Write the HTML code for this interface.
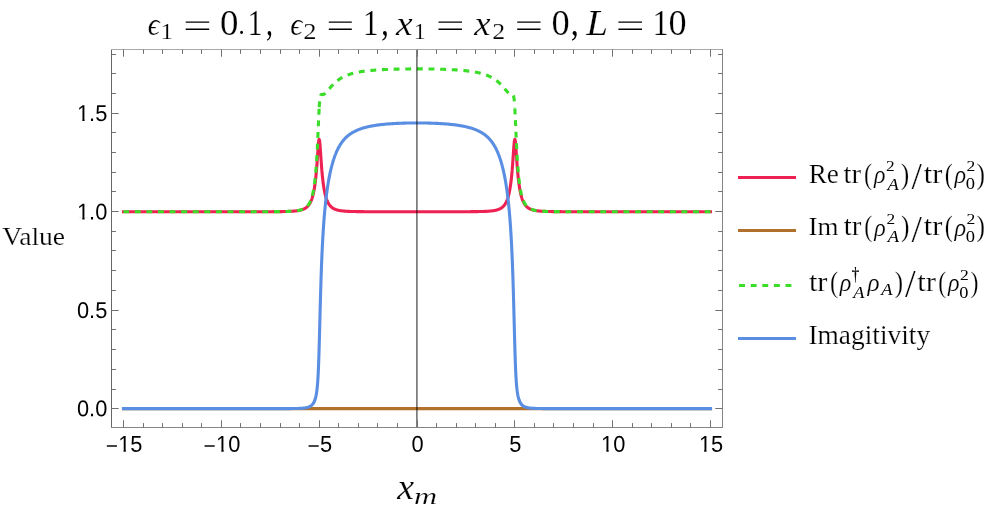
<!DOCTYPE html>
<html><head><meta charset="utf-8"><title>plot</title>
<style>html,body{margin:0;padding:0;background:#fff}body{width:996px;height:516px;overflow:hidden;font-family:"Liberation Sans",sans-serif}</style></head>
<body>
<svg width="996" height="516" viewBox="0 0 996 516" style="display:block;will-change:transform">
<rect width="996" height="516" fill="#fff"/>
<g fill="none" stroke-width="3.1" stroke-linejoin="round">
<path d="M123.50,211.75 L124.47,211.75 L125.45,211.75 L126.43,211.75 L127.41,211.75 L128.39,211.75 L129.37,211.75 L130.34,211.75 L131.32,211.75 L132.30,211.75 L133.28,211.75 L134.26,211.75 L135.24,211.75 L136.21,211.75 L137.19,211.75 L138.17,211.75 L139.15,211.75 L140.13,211.75 L141.11,211.75 L142.08,211.75 L143.06,211.75 L144.04,211.75 L145.02,211.75 L146.00,211.75 L146.98,211.75 L147.95,211.75 L148.93,211.75 L149.91,211.75 L150.89,211.75 L151.87,211.75 L152.85,211.75 L153.82,211.75 L154.80,211.75 L155.78,211.75 L156.76,211.75 L157.74,211.75 L158.72,211.75 L159.69,211.75 L160.67,211.75 L161.65,211.75 L162.63,211.75 L163.61,211.75 L164.59,211.75 L165.56,211.75 L166.54,211.75 L167.52,211.75 L168.50,211.75 L169.48,211.75 L170.46,211.75 L171.43,211.75 L172.41,211.75 L173.39,211.75 L174.37,211.75 L175.35,211.75 L176.33,211.75 L177.30,211.75 L178.28,211.75 L179.26,211.75 L180.24,211.75 L181.22,211.75 L182.20,211.75 L183.17,211.75 L184.15,211.75 L185.13,211.75 L186.11,211.75 L187.09,211.75 L188.07,211.75 L189.04,211.75 L190.02,211.75 L191.00,211.75 L191.98,211.75 L192.96,211.75 L193.94,211.75 L194.91,211.75 L195.89,211.75 L196.87,211.75 L197.85,211.75 L198.83,211.75 L199.81,211.75 L200.78,211.75 L201.76,211.75 L202.74,211.75 L203.72,211.75 L204.70,211.75 L205.68,211.75 L206.65,211.75 L207.63,211.75 L208.61,211.75 L209.59,211.75 L210.57,211.75 L211.55,211.75 L212.52,211.75 L213.50,211.75 L214.48,211.75 L215.46,211.75 L216.44,211.75 L217.42,211.75 L218.39,211.75 L219.37,211.75 L220.35,211.75 L221.33,211.75 L222.31,211.75 L223.29,211.75 L224.27,211.75 L225.24,211.75 L226.22,211.75 L227.20,211.75 L228.18,211.75 L229.16,211.74 L230.14,211.74 L231.11,211.74 L232.09,211.74 L233.07,211.74 L234.05,211.74 L235.03,211.74 L236.01,211.74 L236.98,211.74 L237.96,211.74 L238.94,211.74 L239.92,211.74 L240.90,211.74 L241.88,211.74 L242.85,211.74 L243.83,211.74 L244.81,211.74 L245.79,211.74 L246.77,211.74 L247.75,211.74 L248.72,211.74 L249.70,211.73 L250.68,211.73 L251.66,211.73 L252.64,211.73 L253.62,211.73 L254.59,211.73 L255.57,211.73 L256.55,211.73 L257.53,211.73 L258.51,211.72 L259.49,211.72 L260.46,211.72 L261.44,211.72 L262.42,211.72 L263.40,211.71 L264.38,211.71 L265.36,211.71 L266.33,211.70 L267.31,211.70 L268.29,211.70 L269.27,211.69 L270.25,211.69 L271.23,211.68 L272.20,211.68 L273.18,211.67 L274.16,211.67 L275.14,211.66 L276.12,211.65 L277.10,211.64 L278.07,211.63 L279.05,211.62 L280.03,211.61 L281.01,211.60 L281.99,211.58 L282.97,211.56 L283.94,211.54 L284.92,211.52 L285.90,211.50 L286.88,211.47 L287.86,211.44 L288.84,211.40 L289.81,211.36 L290.79,211.31 L291.77,211.26 L292.75,211.20 L293.73,211.12 L294.71,211.04 L295.68,210.94 L295.68,210.94 L295.78,210.93 L295.88,210.92 L295.98,210.91 L296.08,210.90 L296.17,210.89 L296.27,210.87 L296.37,210.86 L296.47,210.85 L296.57,210.84 L296.66,210.83 L296.76,210.81 L296.86,210.80 L296.96,210.79 L297.05,210.77 L297.15,210.76 L297.25,210.75 L297.35,210.73 L297.45,210.72 L297.54,210.71 L297.64,210.69 L297.74,210.68 L297.84,210.66 L297.93,210.65 L298.03,210.63 L298.13,210.62 L298.23,210.60 L298.33,210.58 L298.42,210.57 L298.52,210.55 L298.62,210.53 L298.62,210.53 L298.72,210.52 L298.82,210.50 L298.91,210.48 L299.01,210.46 L299.11,210.44 L299.21,210.42 L299.30,210.40 L299.40,210.38 L299.50,210.36 L299.60,210.34 L299.70,210.32 L299.79,210.30 L299.89,210.28 L299.99,210.26 L300.09,210.24 L300.19,210.22 L300.28,210.19 L300.38,210.17 L300.48,210.15 L300.58,210.12 L300.58,210.12 L300.67,210.10 L300.77,210.07 L300.87,210.05 L300.97,210.02 L301.07,209.99 L301.16,209.97 L301.26,209.94 L301.36,209.91 L301.46,209.88 L301.55,209.86 L301.65,209.83 L301.75,209.80 L301.85,209.77 L301.95,209.73 L302.04,209.70 L302.14,209.67 L302.24,209.64 L302.34,209.60 L302.44,209.57 L302.53,209.54 L302.63,209.50 L302.73,209.46 L302.83,209.43 L302.92,209.39 L303.02,209.35 L303.12,209.31 L303.22,209.27 L303.32,209.23 L303.41,209.19 L303.51,209.15 L303.51,209.15 L303.61,209.11 L303.71,209.07 L303.80,209.02 L303.90,208.98 L304.00,208.93 L304.10,208.88 L304.20,208.83 L304.29,208.79 L304.39,208.74 L304.49,208.69 L304.59,208.63 L304.69,208.58 L304.78,208.53 L304.88,208.47 L304.98,208.42 L305.08,208.36 L305.17,208.30 L305.27,208.24 L305.37,208.18 L305.47,208.12 L305.47,208.12 L305.57,208.05 L305.66,207.99 L305.76,207.92 L305.86,207.86 L305.96,207.79 L306.06,207.72 L306.15,207.65 L306.25,207.57 L306.35,207.50 L306.45,207.42 L306.54,207.34 L306.64,207.26 L306.74,207.18 L306.84,207.10 L306.94,207.01 L307.03,206.93 L307.13,206.84 L307.23,206.75 L307.33,206.66 L307.42,206.56 L307.52,206.47 L307.62,206.37 L307.72,206.27 L307.82,206.16 L307.91,206.06 L308.01,205.95 L308.11,205.84 L308.21,205.73 L308.31,205.61 L308.40,205.49 L308.40,205.49 L308.50,205.37 L308.60,205.25 L308.70,205.12 L308.79,204.99 L308.89,204.86 L308.99,204.73 L309.09,204.59 L309.19,204.45 L309.28,204.30 L309.38,204.15 L309.48,204.00 L309.58,203.85 L309.68,203.69 L309.77,203.53 L309.87,203.36 L309.97,203.19 L310.07,203.01 L310.16,202.83 L310.26,202.65 L310.36,202.46 L310.36,202.46 L310.46,202.27 L310.56,202.07 L310.65,201.87 L310.75,201.66 L310.85,201.45 L310.95,201.23 L311.04,201.00 L311.14,200.77 L311.24,200.54 L311.34,200.30 L311.34,200.30 L311.44,200.05 L311.53,199.79 L311.63,199.53 L311.73,199.26 L311.83,198.99 L311.93,198.70 L312.02,198.41 L312.12,198.11 L312.22,197.81 L312.32,197.49 L312.41,197.17 L312.51,196.84 L312.61,196.49 L312.71,196.14 L312.81,195.78 L312.90,195.41 L313.00,195.03 L313.10,194.63 L313.20,194.23 L313.29,193.81 L313.29,193.81 L313.39,193.38 L313.49,192.94 L313.59,192.49 L313.69,192.02 L313.78,191.54 L313.88,191.04 L313.98,190.53 L314.08,190.00 L314.18,189.46 L314.27,188.90 L314.37,188.32 L314.47,187.72 L314.57,187.11 L314.66,186.47 L314.76,185.82 L314.86,185.14 L314.96,184.45 L315.06,183.73 L315.15,182.99 L315.25,182.22 L315.25,182.22 L315.27,182.06 L315.29,181.91 L315.31,181.75 L315.33,181.59 L315.35,181.43 L315.37,181.27 L315.39,181.11 L315.41,180.94 L315.43,180.78 L315.45,180.61 L315.45,180.61 L315.47,180.45 L315.49,180.28 L315.51,180.11 L315.53,179.94 L315.55,179.77 L315.56,179.60 L315.58,179.43 L315.60,179.25 L315.62,179.08 L315.64,178.90 L315.66,178.72 L315.68,178.54 L315.70,178.36 L315.72,178.18 L315.74,178.00 L315.76,177.82 L315.78,177.63 L315.80,177.45 L315.82,177.26 L315.84,177.08 L315.86,176.89 L315.88,176.70 L315.90,176.50 L315.92,176.31 L315.94,176.12 L315.96,175.92 L315.98,175.73 L316.00,175.53 L316.01,175.33 L316.03,175.13 L316.05,174.93 L316.07,174.73 L316.09,174.52 L316.11,174.32 L316.13,174.11 L316.15,173.91 L316.17,173.70 L316.19,173.49 L316.21,173.27 L316.23,173.06 L316.23,173.06 L316.25,172.85 L316.27,172.63 L316.29,172.42 L316.31,172.20 L316.33,171.98 L316.35,171.76 L316.37,171.54 L316.39,171.31 L316.41,171.09 L316.43,170.86 L316.45,170.64 L316.46,170.41 L316.48,170.18 L316.50,169.95 L316.52,169.72 L316.54,169.48 L316.56,169.25 L316.58,169.01 L316.60,168.77 L316.62,168.53 L316.64,168.29 L316.66,168.05 L316.68,167.81 L316.70,167.57 L316.72,167.32 L316.74,167.07 L316.76,166.83 L316.78,166.58 L316.80,166.33 L316.82,166.07 L316.84,165.82 L316.86,165.57 L316.88,165.31 L316.90,165.05 L316.91,164.79 L316.93,164.54 L316.95,164.27 L316.97,164.01 L316.99,163.75 L317.01,163.49 L317.01,163.49 L317.03,163.22 L317.05,162.95 L317.07,162.69 L317.09,162.42 L317.11,162.15 L317.13,161.88 L317.15,161.61 L317.17,161.33 L317.19,161.06 L317.21,160.78 L317.23,160.51 L317.25,160.23 L317.27,159.95 L317.29,159.67 L317.31,159.40 L317.33,159.12 L317.35,158.83 L317.36,158.55 L317.38,158.27 L317.40,157.99 L317.42,157.70 L317.44,157.42 L317.46,157.13 L317.48,156.85 L317.50,156.56 L317.52,156.28 L317.54,155.99 L317.56,155.70 L317.58,155.42 L317.60,155.13 L317.62,154.84 L317.64,154.55 L317.66,154.27 L317.68,153.98 L317.70,153.69 L317.72,153.40 L317.74,153.12 L317.76,152.83 L317.78,152.54 L317.80,152.26 L317.81,151.97 L317.83,151.69 L317.85,151.40 L317.87,151.12 L317.89,150.84 L317.89,150.84 L317.91,150.56 L317.93,150.27 L317.95,150.00 L317.97,149.72 L317.99,149.44 L318.01,149.16 L318.03,148.89 L318.05,148.62 L318.07,148.35 L318.09,148.08 L318.11,147.81 L318.13,147.54 L318.15,147.28 L318.17,147.02 L318.19,146.76 L318.19,146.76 L318.21,146.50 L318.23,146.25 L318.25,146.00 L318.26,145.75 L318.28,145.51 L318.30,145.26 L318.32,145.02 L318.34,144.79 L318.36,144.55 L318.38,144.33 L318.40,144.10 L318.42,143.88 L318.44,143.66 L318.46,143.45 L318.48,143.24 L318.50,143.03 L318.52,142.83 L318.54,142.63 L318.56,142.44 L318.58,142.25 L318.60,142.07 L318.62,141.89 L318.64,141.72 L318.66,141.55 L318.68,141.39 L318.70,141.23 L318.71,141.08 L318.73,140.94 L318.75,140.80 L318.77,140.66 L318.79,140.53 L318.81,140.41 L318.83,140.29 L318.85,140.18 L318.87,140.08 L318.89,139.98 L318.91,139.89 L318.93,139.81 L318.95,139.73 L318.97,139.66 L318.99,139.59 L319.01,139.53 L319.03,139.48 L319.05,139.44 L319.07,139.40 L319.09,139.37 L319.11,139.35 L319.13,139.33 L319.15,139.32 L319.16,139.32 L319.18,139.32 L319.20,139.33 L319.22,139.35 L319.24,139.37 L319.24,139.37 L319.26,139.40 L319.28,139.44 L319.30,139.48 L319.32,139.54 L319.34,139.59 L319.36,139.66 L319.38,139.73 L319.40,139.81 L319.42,139.89 L319.44,139.98 L319.46,140.08 L319.46,140.08 L319.48,140.19 L319.50,140.30 L319.52,140.41 L319.54,140.54 L319.56,140.66 L319.58,140.80 L319.60,140.94 L319.62,141.08 L319.63,141.24 L319.65,141.39 L319.67,141.56 L319.69,141.72 L319.71,141.90 L319.73,142.07 L319.75,142.26 L319.77,142.44 L319.79,142.64 L319.81,142.83 L319.83,143.03 L319.85,143.24 L319.87,143.45 L319.89,143.66 L319.91,143.88 L319.93,144.10 L319.95,144.33 L319.97,144.56 L319.99,144.79 L320.01,145.03 L320.03,145.27 L320.05,145.51 L320.07,145.76 L320.08,146.01 L320.10,146.26 L320.12,146.51 L320.14,146.77 L320.14,146.77 L320.16,147.03 L320.18,147.29 L320.20,147.55 L320.22,147.82 L320.24,148.08 L320.26,148.35 L320.28,148.62 L320.30,148.90 L320.32,149.17 L320.34,149.45 L320.34,149.45 L320.36,149.72 L320.38,150.00 L320.40,150.28 L320.42,150.56 L320.44,150.85 L320.46,151.13 L320.48,151.41 L320.50,151.70 L320.52,151.98 L320.53,152.27 L320.55,152.55 L320.57,152.84 L320.59,153.13 L320.61,153.41 L320.63,153.70 L320.65,153.99 L320.67,154.28 L320.69,154.56 L320.71,154.85 L320.73,155.14 L320.75,155.43 L320.77,155.71 L320.79,156.00 L320.81,156.29 L320.83,156.57 L320.85,156.86 L320.87,157.14 L320.89,157.43 L320.91,157.71 L320.93,158.00 L320.95,158.28 L320.97,158.56 L320.98,158.84 L321.00,159.13 L321.02,159.41 L321.04,159.69 L321.06,159.96 L321.08,160.24 L321.10,160.52 L321.12,160.79 L321.12,160.79 L321.14,161.07 L321.16,161.34 L321.18,161.62 L321.20,161.89 L321.22,162.16 L321.24,162.43 L321.26,162.70 L321.28,162.97 L321.30,163.23 L321.32,163.50 L321.34,163.76 L321.36,164.02 L321.38,164.29 L321.40,164.55 L321.42,164.81 L321.43,165.07 L321.45,165.32 L321.47,165.58 L321.49,165.83 L321.51,166.09 L321.53,166.34 L321.55,166.59 L321.57,166.84 L321.59,167.09 L321.61,167.33 L321.63,167.58 L321.65,167.82 L321.67,168.07 L321.69,168.31 L321.71,168.55 L321.73,168.79 L321.75,169.02 L321.77,169.26 L321.79,169.50 L321.81,169.73 L321.83,169.96 L321.85,170.19 L321.87,170.42 L321.88,170.65 L321.90,170.88 L321.90,170.88 L321.92,171.10 L321.94,171.33 L321.96,171.55 L321.98,171.77 L322.00,171.99 L322.02,172.21 L322.04,172.43 L322.06,172.65 L322.08,172.86 L322.10,173.08 L322.12,173.29 L322.14,173.50 L322.16,173.71 L322.18,173.92 L322.20,174.13 L322.22,174.33 L322.24,174.54 L322.26,174.74 L322.28,174.94 L322.30,175.15 L322.32,175.35 L322.33,175.54 L322.35,175.74 L322.37,175.94 L322.39,176.13 L322.41,176.33 L322.43,176.52 L322.45,176.71 L322.47,176.90 L322.49,177.09 L322.51,177.28 L322.53,177.46 L322.55,177.65 L322.57,177.83 L322.59,178.02 L322.61,178.20 L322.63,178.38 L322.65,178.56 L322.67,178.74 L322.69,178.92 L322.71,179.09 L322.73,179.27 L322.75,179.44 L322.77,179.61 L322.78,179.79 L322.78,179.79 L322.80,179.96 L322.82,180.13 L322.84,180.29 L322.86,180.46 L322.88,180.63 L322.90,180.79 L322.92,180.96 L322.94,181.12 L322.96,181.28 L322.98,181.45 L323.00,181.61 L323.02,181.76 L323.04,181.92 L323.06,182.08 L323.08,182.24 L323.08,182.24 L323.18,183.00 L323.27,183.74 L323.37,184.46 L323.47,185.16 L323.57,185.84 L323.67,186.49 L323.76,187.12 L323.86,187.74 L323.96,188.33 L324.06,188.91 L324.15,189.47 L324.25,190.02 L324.35,190.54 L324.45,191.06 L324.55,191.55 L324.64,192.04 L324.74,192.50 L324.84,192.96 L324.94,193.40 L325.04,193.83 L325.04,193.83 L325.13,194.25 L325.23,194.65 L325.33,195.04 L325.43,195.43 L325.52,195.80 L325.62,196.16 L325.72,196.51 L325.82,196.85 L325.92,197.19 L326.01,197.51 L326.01,197.51 L326.11,197.83 L326.21,198.13 L326.31,198.43 L326.40,198.72 L326.50,199.01 L326.60,199.28 L326.70,199.55 L326.80,199.81 L326.89,200.07 L326.99,200.32 L327.09,200.56 L327.19,200.79 L327.29,201.02 L327.38,201.25 L327.48,201.47 L327.58,201.68 L327.68,201.89 L327.77,202.09 L327.87,202.29 L327.97,202.48 L327.97,202.48 L328.07,202.67 L328.17,202.85 L328.26,203.03 L328.36,203.21 L328.46,203.38 L328.56,203.55 L328.65,203.71 L328.75,203.87 L328.85,204.02 L328.95,204.17 L329.05,204.32 L329.14,204.47 L329.24,204.61 L329.34,204.75 L329.44,204.88 L329.54,205.01 L329.63,205.14 L329.73,205.27 L329.83,205.39 L329.93,205.51 L329.93,205.51 L330.02,205.63 L330.12,205.75 L330.22,205.86 L330.32,205.97 L330.42,206.08 L330.51,206.18 L330.61,206.28 L330.71,206.39 L330.81,206.48 L330.91,206.58 L330.91,206.58 L331.00,206.68 L331.10,206.77 L331.20,206.86 L331.30,206.95 L331.39,207.03 L331.49,207.12 L331.59,207.20 L331.69,207.28 L331.79,207.36 L331.88,207.44 L331.98,207.52 L332.08,207.59 L332.18,207.66 L332.27,207.74 L332.37,207.81 L332.47,207.87 L332.57,207.94 L332.67,208.01 L332.76,208.07 L332.86,208.14 L332.86,208.14 L332.96,208.20 L333.06,208.26 L333.16,208.32 L333.25,208.38 L333.35,208.43 L333.45,208.49 L333.55,208.55 L333.64,208.60 L333.74,208.65 L333.84,208.70 L333.94,208.75 L334.04,208.80 L334.13,208.85 L334.23,208.90 L334.33,208.95 L334.43,208.99 L334.53,209.04 L334.62,209.08 L334.72,209.13 L334.82,209.17 L334.82,209.17 L334.92,209.21 L335.01,209.25 L335.11,209.29 L335.21,209.33 L335.31,209.37 L335.41,209.41 L335.50,209.45 L335.60,209.48 L335.70,209.52 L335.80,209.55 L335.80,209.55 L335.89,209.59 L335.99,209.62 L336.09,209.66 L336.19,209.69 L336.29,209.72 L336.38,209.75 L336.48,209.78 L336.58,209.81 L336.68,209.84 L336.78,209.87 L336.87,209.90 L336.97,209.93 L337.07,209.96 L337.17,209.98 L337.26,210.01 L337.36,210.04 L337.46,210.06 L337.56,210.09 L337.66,210.11 L337.75,210.14 L337.75,210.14 L337.85,210.16 L337.95,210.19 L338.05,210.21 L338.14,210.23 L338.24,210.25 L338.34,210.28 L338.44,210.30 L338.54,210.32 L338.63,210.34 L338.73,210.36 L338.83,210.38 L338.93,210.40 L339.03,210.42 L339.12,210.44 L339.22,210.46 L339.32,210.48 L339.42,210.50 L339.51,210.51 L339.61,210.53 L339.71,210.55 L339.71,210.55 L339.81,210.57 L339.91,210.58 L340.00,210.60 L340.10,210.62 L340.20,210.63 L340.30,210.65 L340.40,210.66 L340.49,210.68 L340.59,210.69 L340.69,210.71 L340.69,210.71 L340.79,210.72 L340.88,210.74 L340.98,210.75 L341.08,210.76 L341.18,210.78 L341.28,210.79 L341.37,210.80 L341.47,210.82 L341.57,210.83 L341.67,210.84 L341.76,210.85 L341.86,210.87 L341.96,210.88 L342.06,210.89 L342.16,210.90 L342.25,210.91 L342.35,210.92 L342.45,210.93 L342.55,210.95 L342.65,210.96 L342.65,210.96 L343.62,211.05 L344.60,211.14 L345.58,211.21 L346.56,211.27 L347.54,211.33 L348.52,211.37 L349.49,211.41 L350.47,211.45 L351.45,211.48 L352.43,211.51 L353.41,211.53 L354.39,211.56 L355.36,211.57 L356.34,211.59 L357.32,211.61 L358.30,211.62 L359.28,211.63 L360.26,211.64 L361.23,211.65 L362.21,211.66 L363.19,211.67 L364.17,211.68 L365.15,211.68 L366.13,211.69 L367.10,211.69 L368.08,211.70 L369.06,211.70 L370.04,211.71 L371.02,211.71 L372.00,211.71 L372.97,211.72 L373.95,211.72 L374.93,211.72 L375.91,211.72 L376.89,211.73 L377.87,211.73 L378.84,211.73 L379.82,211.73 L380.80,211.73 L381.78,211.73 L382.76,211.74 L383.74,211.74 L384.71,211.74 L385.69,211.74 L386.67,211.74 L387.65,211.74 L388.63,211.74 L389.61,211.74 L390.58,211.74 L391.56,211.74 L392.54,211.74 L393.52,211.74 L394.50,211.75 L395.48,211.75 L396.45,211.75 L397.43,211.75 L398.41,211.75 L399.39,211.75 L400.37,211.75 L401.35,211.75 L402.32,211.75 L403.30,211.75 L404.28,211.75 L405.26,211.75 L406.24,211.75 L407.22,211.75 L408.19,211.75 L409.17,211.75 L410.15,211.75 L411.13,211.75 L412.11,211.75 L413.09,211.75 L414.06,211.75 L415.04,211.75 L416.02,211.75 L417.00,211.75 L417.98,211.75 L418.96,211.75 L419.94,211.75 L420.91,211.75 L421.89,211.75 L422.87,211.75 L423.85,211.75 L424.83,211.75 L425.81,211.75 L426.78,211.75 L427.76,211.75 L428.74,211.75 L429.72,211.75 L430.70,211.75 L431.68,211.75 L432.65,211.75 L433.63,211.75 L434.61,211.75 L435.59,211.75 L436.57,211.75 L437.55,211.75 L438.52,211.75 L439.50,211.75 L440.48,211.74 L441.46,211.74 L442.44,211.74 L443.42,211.74 L444.39,211.74 L445.37,211.74 L446.35,211.74 L447.33,211.74 L448.31,211.74 L449.29,211.74 L450.26,211.74 L451.24,211.74 L452.22,211.73 L453.20,211.73 L454.18,211.73 L455.16,211.73 L456.13,211.73 L457.11,211.73 L458.09,211.72 L459.07,211.72 L460.05,211.72 L461.03,211.72 L462.00,211.71 L462.98,211.71 L463.96,211.71 L464.94,211.70 L465.92,211.70 L466.90,211.69 L467.87,211.69 L468.85,211.68 L469.83,211.68 L470.81,211.67 L471.79,211.66 L472.77,211.65 L473.74,211.64 L474.72,211.63 L475.70,211.62 L476.68,211.61 L477.66,211.59 L478.64,211.57 L479.61,211.56 L480.59,211.53 L481.57,211.51 L482.55,211.48 L483.53,211.45 L484.51,211.41 L485.48,211.37 L486.46,211.33 L487.44,211.27 L488.42,211.21 L489.40,211.14 L490.38,211.05 L491.35,210.96 L491.35,210.96 L491.45,210.95 L491.55,210.93 L491.65,210.92 L491.75,210.91 L491.84,210.90 L491.94,210.89 L492.04,210.88 L492.14,210.87 L492.24,210.85 L492.33,210.84 L492.33,210.84 L492.43,210.83 L492.53,210.82 L492.63,210.80 L492.72,210.79 L492.82,210.78 L492.92,210.76 L493.02,210.75 L493.12,210.74 L493.21,210.72 L493.31,210.71 L493.31,210.71 L493.41,210.69 L493.51,210.68 L493.60,210.66 L493.70,210.65 L493.80,210.63 L493.90,210.62 L494.00,210.60 L494.09,210.58 L494.19,210.57 L494.29,210.55 L494.29,210.55 L494.39,210.53 L494.49,210.51 L494.58,210.50 L494.68,210.48 L494.78,210.46 L494.88,210.44 L494.97,210.42 L495.07,210.40 L495.17,210.38 L495.27,210.36 L495.37,210.34 L495.46,210.32 L495.56,210.30 L495.66,210.28 L495.76,210.25 L495.86,210.23 L495.95,210.21 L496.05,210.19 L496.15,210.16 L496.25,210.14 L496.25,210.14 L496.34,210.11 L496.44,210.09 L496.54,210.06 L496.64,210.04 L496.74,210.01 L496.83,209.98 L496.93,209.96 L497.03,209.93 L497.13,209.90 L497.22,209.87 L497.22,209.87 L497.32,209.84 L497.42,209.81 L497.52,209.78 L497.62,209.75 L497.71,209.72 L497.81,209.69 L497.91,209.66 L498.01,209.62 L498.11,209.59 L498.20,209.55 L498.20,209.55 L498.30,209.52 L498.40,209.48 L498.50,209.45 L498.59,209.41 L498.69,209.37 L498.79,209.33 L498.89,209.29 L498.99,209.25 L499.08,209.21 L499.18,209.17 L499.18,209.17 L499.28,209.13 L499.38,209.08 L499.47,209.04 L499.57,208.99 L499.67,208.95 L499.77,208.90 L499.87,208.85 L499.96,208.80 L500.06,208.75 L500.16,208.70 L500.26,208.65 L500.36,208.60 L500.45,208.55 L500.55,208.49 L500.65,208.43 L500.75,208.38 L500.84,208.32 L500.94,208.26 L501.04,208.20 L501.14,208.14 L501.14,208.14 L501.24,208.07 L501.33,208.01 L501.43,207.94 L501.53,207.87 L501.63,207.81 L501.73,207.74 L501.82,207.66 L501.92,207.59 L502.02,207.52 L502.12,207.44 L502.12,207.44 L502.21,207.36 L502.31,207.28 L502.41,207.20 L502.51,207.12 L502.61,207.03 L502.70,206.95 L502.80,206.86 L502.90,206.77 L503.00,206.68 L503.09,206.58 L503.09,206.58 L503.19,206.48 L503.29,206.39 L503.39,206.28 L503.49,206.18 L503.58,206.08 L503.68,205.97 L503.78,205.86 L503.88,205.75 L503.98,205.63 L504.07,205.51 L504.07,205.51 L504.17,205.39 L504.27,205.27 L504.37,205.14 L504.46,205.01 L504.56,204.88 L504.66,204.75 L504.76,204.61 L504.86,204.47 L504.95,204.32 L505.05,204.17 L505.15,204.02 L505.25,203.87 L505.35,203.71 L505.44,203.55 L505.54,203.38 L505.64,203.21 L505.74,203.03 L505.83,202.85 L505.93,202.67 L506.03,202.48 L506.03,202.48 L506.13,202.29 L506.23,202.09 L506.32,201.89 L506.42,201.68 L506.52,201.47 L506.62,201.25 L506.71,201.02 L506.81,200.79 L506.91,200.56 L507.01,200.32 L507.01,200.32 L507.11,200.07 L507.20,199.81 L507.30,199.55 L507.40,199.28 L507.50,199.01 L507.60,198.72 L507.69,198.43 L507.79,198.13 L507.89,197.83 L507.99,197.51 L507.99,197.51 L508.08,197.19 L508.18,196.85 L508.28,196.51 L508.38,196.16 L508.48,195.80 L508.57,195.43 L508.67,195.04 L508.77,194.65 L508.87,194.25 L508.96,193.83 L508.96,193.83 L509.06,193.40 L509.16,192.96 L509.26,192.50 L509.36,192.04 L509.45,191.55 L509.55,191.06 L509.65,190.54 L509.75,190.02 L509.85,189.47 L509.94,188.91 L510.04,188.33 L510.14,187.74 L510.24,187.12 L510.33,186.49 L510.43,185.84 L510.53,185.16 L510.63,184.46 L510.73,183.74 L510.82,183.00 L510.92,182.24 L510.92,182.24 L510.94,182.08 L510.96,181.92 L510.98,181.76 L511.00,181.61 L511.02,181.45 L511.04,181.28 L511.06,181.12 L511.08,180.96 L511.10,180.79 L511.12,180.63 L511.12,180.63 L511.14,180.46 L511.16,180.29 L511.18,180.13 L511.20,179.96 L511.22,179.79 L511.23,179.61 L511.25,179.44 L511.27,179.27 L511.29,179.09 L511.31,178.92 L511.33,178.74 L511.35,178.56 L511.37,178.38 L511.39,178.20 L511.41,178.02 L511.43,177.83 L511.45,177.65 L511.47,177.46 L511.49,177.28 L511.51,177.09 L511.53,176.90 L511.55,176.71 L511.57,176.52 L511.59,176.33 L511.61,176.13 L511.63,175.94 L511.65,175.74 L511.67,175.54 L511.68,175.35 L511.70,175.15 L511.72,174.94 L511.74,174.74 L511.76,174.54 L511.78,174.33 L511.80,174.13 L511.82,173.92 L511.84,173.71 L511.86,173.50 L511.88,173.29 L511.90,173.08 L511.90,173.08 L511.92,172.86 L511.94,172.65 L511.96,172.43 L511.98,172.21 L512.00,171.99 L512.02,171.77 L512.04,171.55 L512.06,171.33 L512.08,171.10 L512.10,170.88 L512.12,170.65 L512.13,170.42 L512.15,170.19 L512.17,169.96 L512.19,169.73 L512.21,169.50 L512.23,169.26 L512.25,169.02 L512.27,168.79 L512.29,168.55 L512.31,168.31 L512.33,168.07 L512.35,167.82 L512.37,167.58 L512.39,167.33 L512.41,167.09 L512.43,166.84 L512.45,166.59 L512.47,166.34 L512.49,166.09 L512.51,165.83 L512.53,165.58 L512.55,165.32 L512.57,165.07 L512.58,164.81 L512.60,164.55 L512.62,164.29 L512.64,164.02 L512.66,163.76 L512.68,163.50 L512.68,163.50 L512.70,163.23 L512.72,162.97 L512.74,162.70 L512.76,162.43 L512.78,162.16 L512.80,161.89 L512.82,161.62 L512.84,161.34 L512.86,161.07 L512.88,160.79 L512.88,160.79 L512.90,160.52 L512.92,160.24 L512.94,159.96 L512.96,159.69 L512.98,159.41 L513.00,159.13 L513.02,158.84 L513.03,158.56 L513.05,158.28 L513.07,158.00 L513.09,157.71 L513.11,157.43 L513.13,157.14 L513.15,156.86 L513.17,156.57 L513.19,156.29 L513.21,156.00 L513.23,155.71 L513.25,155.43 L513.27,155.14 L513.29,154.85 L513.31,154.56 L513.33,154.28 L513.35,153.99 L513.37,153.70 L513.39,153.41 L513.41,153.13 L513.43,152.84 L513.45,152.55 L513.47,152.27 L513.48,151.98 L513.50,151.70 L513.52,151.41 L513.54,151.13 L513.56,150.85 L513.56,150.85 L513.58,150.56 L513.60,150.28 L513.62,150.00 L513.64,149.72 L513.66,149.45 L513.68,149.17 L513.70,148.90 L513.72,148.62 L513.74,148.35 L513.76,148.08 L513.78,147.82 L513.80,147.55 L513.82,147.29 L513.84,147.03 L513.86,146.77 L513.86,146.77 L513.88,146.51 L513.90,146.26 L513.92,146.01 L513.93,145.76 L513.95,145.51 L513.97,145.27 L513.99,145.03 L514.01,144.79 L514.03,144.56 L514.05,144.33 L514.07,144.10 L514.09,143.88 L514.11,143.66 L514.13,143.45 L514.15,143.24 L514.17,143.03 L514.19,142.83 L514.21,142.64 L514.23,142.44 L514.25,142.26 L514.27,142.07 L514.29,141.90 L514.31,141.72 L514.33,141.56 L514.35,141.39 L514.37,141.24 L514.38,141.08 L514.40,140.94 L514.42,140.80 L514.44,140.66 L514.46,140.54 L514.48,140.41 L514.50,140.30 L514.52,140.19 L514.54,140.08 L514.56,139.98 L514.58,139.89 L514.60,139.81 L514.62,139.73 L514.64,139.66 L514.66,139.59 L514.68,139.54 L514.70,139.48 L514.72,139.44 L514.74,139.40 L514.76,139.37 L514.76,139.37 L514.78,139.35 L514.80,139.33 L514.82,139.32 L514.84,139.32 L514.85,139.32 L514.87,139.33 L514.89,139.35 L514.91,139.37 L514.93,139.40 L514.95,139.44 L514.97,139.48 L514.99,139.53 L515.01,139.59 L515.03,139.66 L515.05,139.73 L515.07,139.81 L515.09,139.89 L515.11,139.98 L515.13,140.08 L515.13,140.08 L515.15,140.18 L515.17,140.29 L515.19,140.41 L515.21,140.53 L515.23,140.66 L515.25,140.80 L515.27,140.94 L515.29,141.08 L515.30,141.23 L515.32,141.39 L515.34,141.55 L515.36,141.72 L515.38,141.89 L515.40,142.07 L515.42,142.25 L515.44,142.44 L515.46,142.63 L515.48,142.83 L515.50,143.03 L515.52,143.24 L515.54,143.45 L515.56,143.66 L515.58,143.88 L515.60,144.10 L515.62,144.33 L515.64,144.55 L515.66,144.79 L515.68,145.02 L515.70,145.26 L515.72,145.51 L515.74,145.75 L515.75,146.00 L515.77,146.25 L515.79,146.50 L515.81,146.76 L515.81,146.76 L515.83,147.02 L515.85,147.28 L515.87,147.54 L515.89,147.81 L515.91,148.08 L515.93,148.35 L515.95,148.62 L515.97,148.89 L515.99,149.16 L516.01,149.44 L516.01,149.44 L516.03,149.72 L516.05,150.00 L516.07,150.27 L516.09,150.56 L516.11,150.84 L516.13,151.12 L516.15,151.40 L516.17,151.69 L516.19,151.97 L516.20,152.26 L516.22,152.54 L516.24,152.83 L516.26,153.12 L516.28,153.40 L516.30,153.69 L516.32,153.98 L516.34,154.27 L516.36,154.55 L516.38,154.84 L516.40,155.13 L516.42,155.42 L516.44,155.70 L516.46,155.99 L516.48,156.28 L516.50,156.56 L516.52,156.85 L516.54,157.13 L516.56,157.42 L516.58,157.70 L516.60,157.99 L516.62,158.27 L516.64,158.55 L516.65,158.83 L516.67,159.12 L516.69,159.40 L516.71,159.67 L516.73,159.95 L516.75,160.23 L516.77,160.51 L516.79,160.78 L516.79,160.78 L516.81,161.06 L516.83,161.33 L516.85,161.61 L516.87,161.88 L516.89,162.15 L516.91,162.42 L516.93,162.69 L516.95,162.95 L516.97,163.22 L516.99,163.49 L517.01,163.75 L517.03,164.01 L517.05,164.27 L517.07,164.54 L517.09,164.79 L517.10,165.05 L517.12,165.31 L517.14,165.57 L517.16,165.82 L517.18,166.07 L517.20,166.33 L517.22,166.58 L517.24,166.83 L517.26,167.07 L517.28,167.32 L517.30,167.57 L517.32,167.81 L517.34,168.05 L517.36,168.29 L517.38,168.53 L517.40,168.77 L517.42,169.01 L517.44,169.25 L517.46,169.48 L517.48,169.72 L517.50,169.95 L517.52,170.18 L517.54,170.41 L517.55,170.64 L517.57,170.86 L517.57,170.86 L517.59,171.09 L517.61,171.31 L517.63,171.54 L517.65,171.76 L517.67,171.98 L517.69,172.20 L517.71,172.42 L517.73,172.63 L517.75,172.85 L517.77,173.06 L517.77,173.06 L517.79,173.27 L517.81,173.49 L517.83,173.70 L517.85,173.91 L517.87,174.11 L517.89,174.32 L517.91,174.52 L517.93,174.73 L517.95,174.93 L517.97,175.13 L517.99,175.33 L518.00,175.53 L518.02,175.73 L518.04,175.92 L518.06,176.12 L518.08,176.31 L518.10,176.50 L518.12,176.70 L518.14,176.89 L518.16,177.08 L518.18,177.26 L518.20,177.45 L518.22,177.63 L518.24,177.82 L518.26,178.00 L518.28,178.18 L518.30,178.36 L518.32,178.54 L518.34,178.72 L518.36,178.90 L518.38,179.08 L518.40,179.25 L518.42,179.43 L518.44,179.60 L518.45,179.77 L518.45,179.77 L518.47,179.94 L518.49,180.11 L518.51,180.28 L518.53,180.45 L518.55,180.61 L518.57,180.78 L518.59,180.94 L518.61,181.11 L518.63,181.27 L518.65,181.43 L518.67,181.59 L518.69,181.75 L518.71,181.91 L518.73,182.06 L518.75,182.22 L518.75,182.22 L518.85,182.99 L518.94,183.73 L519.04,184.45 L519.14,185.14 L519.24,185.82 L519.34,186.47 L519.43,187.11 L519.53,187.72 L519.63,188.32 L519.73,188.90 L519.82,189.46 L519.92,190.00 L520.02,190.53 L520.12,191.04 L520.22,191.54 L520.31,192.02 L520.41,192.49 L520.51,192.94 L520.61,193.38 L520.71,193.81 L520.71,193.81 L520.80,194.23 L520.90,194.63 L521.00,195.03 L521.10,195.41 L521.19,195.78 L521.29,196.14 L521.39,196.49 L521.49,196.84 L521.59,197.17 L521.68,197.49 L521.68,197.49 L521.78,197.81 L521.88,198.11 L521.98,198.41 L522.07,198.70 L522.17,198.99 L522.27,199.26 L522.37,199.53 L522.47,199.79 L522.56,200.05 L522.66,200.30 L522.66,200.30 L522.76,200.54 L522.86,200.77 L522.96,201.00 L523.05,201.23 L523.15,201.45 L523.25,201.66 L523.35,201.87 L523.44,202.07 L523.54,202.27 L523.64,202.46 L523.64,202.46 L523.74,202.65 L523.84,202.83 L523.93,203.01 L524.03,203.19 L524.13,203.36 L524.23,203.53 L524.32,203.69 L524.42,203.85 L524.52,204.00 L524.62,204.15 L524.72,204.30 L524.81,204.45 L524.91,204.59 L525.01,204.73 L525.11,204.86 L525.21,204.99 L525.30,205.12 L525.40,205.25 L525.50,205.37 L525.60,205.49 L525.60,205.49 L525.69,205.61 L525.79,205.73 L525.89,205.84 L525.99,205.95 L526.09,206.06 L526.18,206.16 L526.28,206.27 L526.38,206.37 L526.48,206.47 L526.58,206.56 L526.58,206.56 L526.67,206.66 L526.77,206.75 L526.87,206.84 L526.97,206.93 L527.06,207.01 L527.16,207.10 L527.26,207.18 L527.36,207.26 L527.46,207.34 L527.55,207.42 L527.55,207.42 L527.65,207.50 L527.75,207.57 L527.85,207.65 L527.94,207.72 L528.04,207.79 L528.14,207.86 L528.24,207.92 L528.34,207.99 L528.43,208.05 L528.53,208.12 L528.53,208.12 L528.63,208.18 L528.73,208.24 L528.83,208.30 L528.92,208.36 L529.02,208.42 L529.12,208.47 L529.22,208.53 L529.31,208.58 L529.41,208.63 L529.51,208.69 L529.61,208.74 L529.71,208.79 L529.80,208.83 L529.90,208.88 L530.00,208.93 L530.10,208.98 L530.20,209.02 L530.29,209.07 L530.39,209.11 L530.49,209.15 L530.49,209.15 L530.59,209.19 L530.68,209.23 L530.78,209.27 L530.88,209.31 L530.98,209.35 L531.08,209.39 L531.17,209.43 L531.27,209.46 L531.37,209.50 L531.47,209.54 L531.47,209.54 L531.56,209.57 L531.66,209.60 L531.76,209.64 L531.86,209.67 L531.96,209.70 L532.05,209.73 L532.15,209.77 L532.25,209.80 L532.35,209.83 L532.45,209.86 L532.45,209.86 L532.54,209.88 L532.64,209.91 L532.74,209.94 L532.84,209.97 L532.93,209.99 L533.03,210.02 L533.13,210.05 L533.23,210.07 L533.33,210.10 L533.42,210.12 L533.42,210.12 L533.52,210.15 L533.62,210.17 L533.72,210.19 L533.81,210.22 L533.91,210.24 L534.01,210.26 L534.11,210.28 L534.21,210.30 L534.30,210.32 L534.40,210.34 L534.50,210.36 L534.60,210.38 L534.70,210.40 L534.79,210.42 L534.89,210.44 L534.99,210.46 L535.09,210.48 L535.18,210.50 L535.28,210.52 L535.38,210.53 L535.38,210.53 L535.48,210.55 L535.58,210.57 L535.67,210.58 L535.77,210.60 L535.87,210.62 L535.97,210.63 L536.07,210.65 L536.16,210.66 L536.26,210.68 L536.36,210.69 L536.36,210.69 L536.46,210.71 L536.55,210.72 L536.65,210.73 L536.75,210.75 L536.85,210.76 L536.95,210.77 L537.04,210.79 L537.14,210.80 L537.24,210.81 L537.34,210.83 L537.34,210.83 L537.43,210.84 L537.53,210.85 L537.63,210.86 L537.73,210.87 L537.83,210.89 L537.92,210.90 L538.02,210.91 L538.12,210.92 L538.22,210.93 L538.32,210.94 L538.32,210.94 L539.29,211.04 L540.27,211.12 L541.25,211.20 L542.23,211.26 L543.21,211.31 L544.19,211.36 L545.16,211.40 L546.14,211.44 L547.12,211.47 L548.10,211.50 L549.08,211.52 L550.06,211.54 L551.03,211.56 L552.01,211.58 L552.99,211.60 L553.97,211.61 L554.95,211.62 L555.93,211.63 L556.90,211.64 L557.88,211.65 L558.86,211.66 L559.84,211.67 L560.82,211.67 L561.80,211.68 L562.77,211.68 L563.75,211.69 L564.73,211.69 L565.71,211.70 L566.69,211.70 L567.67,211.70 L568.64,211.71 L569.62,211.71 L570.60,211.71 L571.58,211.72 L572.56,211.72 L573.54,211.72 L574.51,211.72 L575.49,211.72 L576.47,211.73 L577.45,211.73 L578.43,211.73 L579.41,211.73 L580.38,211.73 L581.36,211.73 L582.34,211.73 L583.32,211.73 L584.30,211.73 L585.28,211.74 L586.25,211.74 L587.23,211.74 L588.21,211.74 L589.19,211.74 L590.17,211.74 L591.15,211.74 L592.12,211.74 L593.10,211.74 L594.08,211.74 L595.06,211.74 L596.04,211.74 L597.02,211.74 L597.99,211.74 L598.97,211.74 L599.95,211.74 L600.93,211.74 L601.91,211.74 L602.89,211.74 L603.86,211.74 L604.84,211.74 L605.82,211.75 L606.80,211.75 L607.78,211.75 L608.76,211.75 L609.73,211.75 L610.71,211.75 L611.69,211.75 L612.67,211.75 L613.65,211.75 L614.63,211.75 L615.61,211.75 L616.58,211.75 L617.56,211.75 L618.54,211.75 L619.52,211.75 L620.50,211.75 L621.48,211.75 L622.45,211.75 L623.43,211.75 L624.41,211.75 L625.39,211.75 L626.37,211.75 L627.35,211.75 L628.32,211.75 L629.30,211.75 L630.28,211.75 L631.26,211.75 L632.24,211.75 L633.22,211.75 L634.19,211.75 L635.17,211.75 L636.15,211.75 L637.13,211.75 L638.11,211.75 L639.09,211.75 L640.06,211.75 L641.04,211.75 L642.02,211.75 L643.00,211.75 L643.98,211.75 L644.96,211.75 L645.93,211.75 L646.91,211.75 L647.89,211.75 L648.87,211.75 L649.85,211.75 L650.83,211.75 L651.80,211.75 L652.78,211.75 L653.76,211.75 L654.74,211.75 L655.72,211.75 L656.70,211.75 L657.67,211.75 L658.65,211.75 L659.63,211.75 L660.61,211.75 L661.59,211.75 L662.57,211.75 L663.54,211.75 L664.52,211.75 L665.50,211.75 L666.48,211.75 L667.46,211.75 L668.44,211.75 L669.41,211.75 L670.39,211.75 L671.37,211.75 L672.35,211.75 L673.33,211.75 L674.31,211.75 L675.28,211.75 L676.26,211.75 L677.24,211.75 L678.22,211.75 L679.20,211.75 L680.18,211.75 L681.15,211.75 L682.13,211.75 L683.11,211.75 L684.09,211.75 L685.07,211.75 L686.05,211.75 L687.02,211.75 L688.00,211.75 L688.98,211.75 L689.96,211.75 L690.94,211.75 L691.92,211.75 L692.89,211.75 L693.87,211.75 L694.85,211.75 L695.83,211.75 L696.81,211.75 L697.79,211.75 L698.76,211.75 L699.74,211.75 L700.72,211.75 L701.70,211.75 L702.68,211.75 L703.66,211.75 L704.63,211.75 L705.61,211.75 L706.59,211.75 L707.57,211.75 L708.55,211.75 L709.53,211.75 L710.50,211.75" stroke="#ed2152" stroke-linecap="square"/>
<path d="M123.50,408.65 L710.50,408.65" stroke="#b2702d" stroke-linecap="square"/>
<path d="M123.50,211.75 L124.47,211.75 L125.45,211.75 L126.43,211.75 L127.41,211.75 L128.39,211.75 L129.37,211.75 L130.34,211.75 L131.32,211.75 L132.30,211.75 L133.28,211.75 L134.26,211.75 L135.24,211.75 L136.21,211.75 L137.19,211.75 L138.17,211.75 L139.15,211.75 L140.13,211.75 L141.11,211.75 L142.08,211.75 L143.06,211.75 L144.04,211.75 L145.02,211.75 L146.00,211.75 L146.98,211.75 L147.95,211.75 L148.93,211.75 L149.91,211.75 L150.89,211.75 L151.87,211.75 L152.85,211.75 L153.82,211.75 L154.80,211.75 L155.78,211.75 L156.76,211.75 L157.74,211.75 L158.72,211.75 L159.69,211.75 L160.67,211.75 L161.65,211.75 L162.63,211.75 L163.61,211.75 L164.59,211.75 L165.56,211.75 L166.54,211.75 L167.52,211.75 L168.50,211.75 L169.48,211.75 L170.46,211.75 L171.43,211.75 L172.41,211.75 L173.39,211.75 L174.37,211.75 L175.35,211.75 L176.33,211.75 L177.30,211.75 L178.28,211.75 L179.26,211.75 L180.24,211.75 L181.22,211.75 L182.20,211.75 L183.17,211.75 L184.15,211.75 L185.13,211.75 L186.11,211.75 L187.09,211.75 L188.07,211.75 L189.04,211.75 L190.02,211.75 L191.00,211.75 L191.98,211.75 L192.96,211.75 L193.94,211.75 L194.91,211.75 L195.89,211.75 L196.87,211.75 L197.85,211.75 L198.83,211.75 L199.81,211.75 L200.78,211.75 L201.76,211.75 L202.74,211.75 L203.72,211.75 L204.70,211.75 L205.68,211.75 L206.65,211.75 L207.63,211.75 L208.61,211.75 L209.59,211.75 L210.57,211.75 L211.55,211.75 L212.52,211.75 L213.50,211.75 L214.48,211.75 L215.46,211.75 L216.44,211.75 L217.42,211.75 L218.39,211.75 L219.37,211.75 L220.35,211.75 L221.33,211.75 L222.31,211.75 L223.29,211.75 L224.27,211.75 L225.24,211.75 L226.22,211.75 L227.20,211.75 L228.18,211.74 L229.16,211.74 L230.14,211.74 L231.11,211.74 L232.09,211.74 L233.07,211.74 L234.05,211.74 L235.03,211.74 L236.01,211.74 L236.98,211.74 L237.96,211.74 L238.94,211.74 L239.92,211.74 L240.90,211.74 L241.88,211.74 L242.85,211.74 L243.83,211.74 L244.81,211.74 L245.79,211.74 L246.77,211.74 L247.75,211.74 L248.72,211.74 L249.70,211.73 L250.68,211.73 L251.66,211.73 L252.64,211.73 L253.62,211.73 L254.59,211.73 L255.57,211.73 L256.55,211.73 L257.53,211.72 L258.51,211.72 L259.49,211.72 L260.46,211.72 L261.44,211.72 L262.42,211.71 L263.40,211.71 L264.38,211.71 L265.36,211.71 L266.33,211.70 L267.31,211.70 L268.29,211.69 L269.27,211.69 L270.25,211.69 L271.23,211.68 L272.20,211.67 L273.18,211.67 L274.16,211.66 L275.14,211.65 L276.12,211.65 L277.10,211.64 L278.07,211.63 L279.05,211.61 L280.03,211.60 L281.01,211.59 L281.99,211.57 L282.97,211.55 L283.94,211.53 L284.92,211.51 L285.90,211.48 L286.88,211.45 L287.86,211.41 L288.84,211.37 L289.81,211.33 L290.79,211.28 L291.77,211.22 L292.75,211.15 L293.73,211.07 L294.71,210.98 L295.68,210.87 L295.68,210.87 L295.78,210.86 L295.88,210.85 L295.98,210.83 L296.08,210.82 L296.17,210.81 L296.27,210.80 L296.37,210.78 L296.47,210.77 L296.57,210.76 L296.66,210.74 L296.76,210.73 L296.86,210.71 L296.96,210.70 L297.05,210.69 L297.15,210.67 L297.25,210.66 L297.35,210.64 L297.45,210.63 L297.54,210.61 L297.64,210.59 L297.74,210.58 L297.84,210.56 L297.93,210.54 L298.03,210.53 L298.13,210.51 L298.23,210.49 L298.33,210.47 L298.42,210.46 L298.52,210.44 L298.62,210.42 L298.62,210.42 L298.72,210.40 L298.82,210.38 L298.91,210.36 L299.01,210.34 L299.11,210.32 L299.21,210.30 L299.30,210.28 L299.40,210.25 L299.50,210.23 L299.60,210.21 L299.70,210.19 L299.79,210.16 L299.89,210.14 L299.99,210.12 L300.09,210.09 L300.19,210.07 L300.28,210.04 L300.38,210.01 L300.48,209.99 L300.58,209.96 L300.58,209.96 L300.67,209.93 L300.77,209.91 L300.87,209.88 L300.97,209.85 L301.07,209.82 L301.16,209.79 L301.26,209.76 L301.36,209.73 L301.46,209.70 L301.55,209.66 L301.65,209.63 L301.75,209.60 L301.85,209.56 L301.95,209.53 L302.04,209.49 L302.14,209.46 L302.24,209.42 L302.34,209.38 L302.44,209.35 L302.53,209.31 L302.63,209.27 L302.73,209.23 L302.83,209.19 L302.92,209.14 L303.02,209.10 L303.12,209.06 L303.22,209.01 L303.32,208.97 L303.41,208.92 L303.51,208.88 L303.51,208.88 L303.61,208.83 L303.71,208.78 L303.80,208.73 L303.90,208.68 L304.00,208.63 L304.10,208.57 L304.20,208.52 L304.29,208.46 L304.39,208.41 L304.49,208.35 L304.59,208.29 L304.69,208.23 L304.78,208.17 L304.88,208.11 L304.98,208.05 L305.08,207.98 L305.17,207.92 L305.27,207.85 L305.37,207.78 L305.47,207.71 L305.47,207.71 L305.57,207.64 L305.66,207.57 L305.76,207.49 L305.86,207.42 L305.96,207.34 L306.06,207.26 L306.15,207.18 L306.25,207.09 L306.35,207.01 L306.45,206.92 L306.54,206.83 L306.64,206.74 L306.74,206.65 L306.84,206.56 L306.94,206.46 L307.03,206.36 L307.13,206.26 L307.23,206.16 L307.33,206.05 L307.42,205.95 L307.52,205.84 L307.62,205.72 L307.72,205.61 L307.82,205.49 L307.91,205.37 L308.01,205.25 L308.11,205.12 L308.21,204.99 L308.31,204.86 L308.40,204.73 L308.40,204.73 L308.50,204.59 L308.60,204.45 L308.70,204.31 L308.79,204.16 L308.89,204.01 L308.99,203.85 L309.09,203.69 L309.19,203.53 L309.28,203.37 L309.38,203.20 L309.48,203.02 L309.58,202.84 L309.68,202.66 L309.77,202.47 L309.87,202.28 L309.97,202.08 L310.07,201.88 L310.16,201.68 L310.26,201.46 L310.36,201.25 L310.36,201.25 L310.46,201.03 L310.56,200.80 L310.65,200.56 L310.75,200.32 L310.85,200.08 L310.95,199.82 L311.04,199.56 L311.14,199.30 L311.24,199.03 L311.34,198.75 L311.34,198.75 L311.44,198.46 L311.53,198.16 L311.63,197.86 L311.73,197.55 L311.83,197.23 L311.93,196.90 L312.02,196.56 L312.12,196.21 L312.22,195.85 L312.32,195.49 L312.41,195.11 L312.51,194.72 L312.61,194.32 L312.71,193.91 L312.81,193.49 L312.90,193.05 L313.00,192.60 L313.10,192.14 L313.20,191.67 L313.29,191.18 L313.29,191.18 L313.39,190.67 L313.49,190.15 L313.59,189.62 L313.69,189.07 L313.78,188.50 L313.88,187.91 L313.98,187.30 L314.08,186.68 L314.18,186.03 L314.27,185.37 L314.37,184.68 L314.47,183.97 L314.57,183.24 L314.66,182.48 L314.76,181.70 L314.86,180.89 L314.96,180.06 L315.06,179.19 L315.15,178.30 L315.25,177.38 L315.25,177.38 L315.27,177.19 L315.29,177.00 L315.31,176.81 L315.33,176.61 L315.35,176.42 L315.37,176.22 L315.39,176.03 L315.41,175.83 L315.43,175.63 L315.45,175.43 L315.45,175.43 L315.47,175.23 L315.49,175.02 L315.51,174.82 L315.53,174.61 L315.55,174.40 L315.56,174.20 L315.58,173.99 L315.60,173.77 L315.62,173.56 L315.64,173.34 L315.66,173.13 L315.68,172.91 L315.70,172.69 L315.72,172.47 L315.74,172.25 L315.76,172.02 L315.78,171.80 L315.80,171.57 L315.82,171.34 L315.84,171.11 L315.86,170.88 L315.88,170.64 L315.90,170.41 L315.92,170.17 L315.94,169.93 L315.96,169.69 L315.98,169.45 L316.00,169.21 L316.01,168.96 L316.03,168.71 L316.05,168.46 L316.07,168.21 L316.09,167.96 L316.11,167.71 L316.13,167.45 L316.15,167.19 L316.17,166.93 L316.19,166.67 L316.21,166.41 L316.23,166.14 L316.23,166.14 L316.25,165.87 L316.27,165.61 L316.29,165.33 L316.31,165.06 L316.33,164.79 L316.35,164.51 L316.37,164.23 L316.39,163.95 L316.41,163.67 L316.43,163.38 L316.45,163.10 L316.46,162.81 L316.48,162.52 L316.50,162.23 L316.52,161.93 L316.54,161.64 L316.56,161.34 L316.58,161.04 L316.60,160.73 L316.62,160.43 L316.64,160.12 L316.66,159.81 L316.68,159.50 L316.70,159.19 L316.72,158.87 L316.74,158.56 L316.76,158.24 L316.78,157.91 L316.80,157.59 L316.82,157.26 L316.84,156.94 L316.86,156.61 L316.88,156.27 L316.90,155.94 L316.91,155.60 L316.93,155.26 L316.95,154.92 L316.97,154.58 L316.99,154.23 L317.01,153.88 L317.01,153.88 L317.03,153.53 L317.05,153.18 L317.07,152.82 L317.09,152.47 L317.11,152.11 L317.13,151.75 L317.15,151.38 L317.17,151.02 L317.19,150.65 L317.21,150.28 L317.23,149.90 L317.25,149.53 L317.27,149.15 L317.29,148.77 L317.31,148.39 L317.33,148.01 L317.35,147.62 L317.36,147.23 L317.38,146.84 L317.40,146.45 L317.42,146.06 L317.44,145.66 L317.46,145.26 L317.48,144.86 L317.50,144.46 L317.52,144.05 L317.54,143.65 L317.56,143.24 L317.58,142.83 L317.60,142.41 L317.62,142.00 L317.64,141.58 L317.66,141.16 L317.68,140.74 L317.70,140.32 L317.72,139.90 L317.74,139.47 L317.76,139.04 L317.78,138.62 L317.80,138.18 L317.81,137.75 L317.83,137.32 L317.85,136.88 L317.87,136.45 L317.89,136.01 L317.89,136.01 L317.91,135.57 L317.93,135.13 L317.95,134.69 L317.97,134.25 L317.99,133.80 L318.01,133.36 L318.03,132.91 L318.05,132.47 L318.07,132.02 L318.09,131.57 L318.11,131.12 L318.13,130.67 L318.15,130.22 L318.17,129.77 L318.19,129.32 L318.19,129.32 L318.21,128.87 L318.23,128.42 L318.25,127.97 L318.26,127.52 L318.28,127.07 L318.30,126.62 L318.32,126.16 L318.34,125.71 L318.36,125.26 L318.38,124.82 L318.40,124.37 L318.42,123.92 L318.44,123.47 L318.46,123.03 L318.48,122.58 L318.50,122.14 L318.52,121.70 L318.54,121.25 L318.56,120.82 L318.58,120.38 L318.60,119.94 L318.62,119.51 L318.64,119.07 L318.66,118.64 L318.68,118.22 L318.70,117.79 L318.71,117.37 L318.73,116.95 L318.75,116.53 L318.77,116.11 L318.79,115.70 L318.81,115.29 L318.83,114.88 L318.85,114.48 L318.87,114.08 L318.89,113.68 L318.91,113.29 L318.93,112.90 L318.95,112.51 L318.97,112.13 L318.99,111.75 L319.01,111.38 L319.03,111.00 L319.05,110.64 L319.07,110.27 L319.09,109.92 L319.11,109.56 L319.13,109.21 L319.15,108.86 L319.16,108.52" stroke="#3add27" stroke-dasharray="5.9 5.7" stroke-dashoffset="0.35"/>
<path d="M319.24,107.27 L319.24,107.20 L319.26,106.89 L319.28,106.57 L319.30,106.26 L319.32,105.96 L319.34,105.66 L319.36,105.37 L319.38,105.08 L319.40,104.79 L319.42,104.51 L319.44,104.24 L319.46,103.97 L319.46,103.97 L319.48,103.71 L319.50,103.45 L319.52,103.19 L319.54,102.94 L319.56,102.70 L319.58,102.46 L319.60,102.22 L319.62,101.99 L319.63,101.77 L319.65,101.55 L319.67,101.33 L319.69,101.12 L319.71,100.91 L319.73,100.71 L319.75,100.52 L319.77,100.32 L319.79,100.14 L319.81,99.95 L319.83,99.77 L319.85,99.60 L319.87,99.43 L319.89,99.26 L319.91,99.10 L319.93,98.94 L319.95,98.79 L319.97,98.64 L319.99,98.50 L320.01,98.36 L320.03,98.22 L320.05,98.08 L320.07,97.95 L320.08,97.83 L320.10,97.71 L320.12,97.59 L320.14,97.47 L320.14,97.47 L320.16,97.36 L320.18,97.25 L320.20,97.15 L320.22,97.04 L320.24,96.94 L320.26,96.85 L320.28,96.75 L320.30,96.66 L320.32,96.58 L320.34,96.49 L320.34,96.49 L320.36,96.41 L320.38,96.33 L320.40,96.26 L320.42,96.18 L320.44,96.11 L320.46,96.04 L320.48,95.98 L320.50,95.91 L320.52,95.85 L320.53,95.79 L320.55,95.73 L320.57,95.68 L320.59,95.63 L320.61,95.57 L320.63,95.52 L320.65,95.48 L320.67,95.43 L320.69,95.39 L320.71,95.35 L320.73,95.31 L320.75,95.27 L320.77,95.23 L320.79,95.19 L320.81,95.16 L320.83,95.13 L320.85,95.10 L320.87,95.06 L320.89,95.04 L320.91,95.01 L320.93,94.98 L320.95,94.96 L320.97,94.93 L320.98,94.91 L321.00,94.89 L321.02,94.87 L321.04,94.85 L321.06,94.83 L321.08,94.81 L321.10,94.79 L321.12,94.78 L321.12,94.78 L321.14,94.76 L321.16,94.75 L321.18,94.74 L321.20,94.72 L321.22,94.71 L321.24,94.70 L321.26,94.69 L321.28,94.68 L321.30,94.67 L321.32,94.66 L321.34,94.65 L321.36,94.64 L321.38,94.64 L321.40,94.63 L321.42,94.62 L321.43,94.62 L321.45,94.61 L321.47,94.61 L321.49,94.60 L321.51,94.60 L321.53,94.59 L321.55,94.59 L321.57,94.59 L321.59,94.58 L321.61,94.58 L321.63,94.58 L321.65,94.57 L321.67,94.57 L321.69,94.57 L321.71,94.57 L321.73,94.57 L321.75,94.57 L321.77,94.57 L321.79,94.57 L321.81,94.56 L321.83,94.56 L321.85,94.56 L321.87,94.56 L321.88,94.56 L321.90,94.56 L321.90,94.56 L321.92,94.56 L321.94,94.56 L321.96,94.56 L321.98,94.56 L322.00,94.56 L322.02,94.57 L322.04,94.57 L322.06,94.57 L322.08,94.57 L322.10,94.57 L322.12,94.57 L322.14,94.57 L322.16,94.57 L322.18,94.57 L322.20,94.57 L322.22,94.57 L322.24,94.57 L322.26,94.57 L322.28,94.57 L322.30,94.57 L322.32,94.57 L322.33,94.57 L322.35,94.57 L322.37,94.57 L322.39,94.57 L322.41,94.57 L322.43,94.57 L322.45,94.57 L322.47,94.57 L322.49,94.57 L322.51,94.57 L322.53,94.57 L322.55,94.57 L322.57,94.57 L322.59,94.57 L322.61,94.57 L322.63,94.57 L322.65,94.56 L322.67,94.56 L322.69,94.56 L322.71,94.56 L322.73,94.56 L322.75,94.56 L322.77,94.56 L322.78,94.55 L322.78,94.55 L322.80,94.55 L322.82,94.55 L322.84,94.55 L322.86,94.54 L322.88,94.54 L322.90,94.54 L322.92,94.54 L322.94,94.53 L322.96,94.53 L322.98,94.53 L323.00,94.52 L323.02,94.52 L323.04,94.52 L323.06,94.51 L323.08,94.51 L323.08,94.51 L323.18,94.49 L323.27,94.46 L323.37,94.43 L323.47,94.40 L323.57,94.36 L323.67,94.33 L323.76,94.28 L323.86,94.24 L323.96,94.19 L324.06,94.13 L324.15,94.08 L324.25,94.02 L324.35,93.96 L324.45,93.89 L324.55,93.82 L324.64,93.75 L324.74,93.68 L324.84,93.61 L324.94,93.53 L325.04,93.45 L325.04,93.45 L325.13,93.36 L325.23,93.28 L325.33,93.19 L325.43,93.10 L325.52,93.01 L325.62,92.92 L325.72,92.83 L325.82,92.73 L325.92,92.63 L326.01,92.54 L326.01,92.54 L326.11,92.44 L326.21,92.33 L326.31,92.23 L326.40,92.13 L326.50,92.02 L326.60,91.92 L326.70,91.81 L326.80,91.70 L326.89,91.59 L326.99,91.48 L327.09,91.37 L327.19,91.26 L327.29,91.15 L327.38,91.04 L327.48,90.93 L327.58,90.81 L327.68,90.70 L327.77,90.58 L327.87,90.47 L327.97,90.36 L327.97,90.36 L328.07,90.24 L328.17,90.13 L328.26,90.01 L328.36,89.89 L328.46,89.78 L328.56,89.66 L328.65,89.55 L328.75,89.43 L328.85,89.32 L328.95,89.20 L329.05,89.08 L329.14,88.97 L329.24,88.85 L329.34,88.74 L329.44,88.62 L329.54,88.51 L329.63,88.39 L329.73,88.27 L329.83,88.16 L329.93,88.05 L329.93,88.05 L330.02,87.93 L330.12,87.82 L330.22,87.70 L330.32,87.59 L330.42,87.48 L330.51,87.36 L330.61,87.25 L330.71,87.14 L330.81,87.03 L330.91,86.92 L330.91,86.92 L331.00,86.81 L331.10,86.70 L331.20,86.59 L331.30,86.48 L331.39,86.37 L331.49,86.26 L331.59,86.15 L331.69,86.04 L331.79,85.93 L331.88,85.83 L331.98,85.72 L332.08,85.62 L332.18,85.51 L332.27,85.41 L332.37,85.30 L332.47,85.20 L332.57,85.09 L332.67,84.99 L332.76,84.89 L332.86,84.79 L332.86,84.79 L332.96,84.69 L333.06,84.58 L333.16,84.48 L333.25,84.38 L333.35,84.29 L333.45,84.19 L333.55,84.09 L333.64,83.99 L333.74,83.90 L333.84,83.80 L333.94,83.70 L334.04,83.61 L334.13,83.51 L334.23,83.42 L334.33,83.33 L334.43,83.23 L334.53,83.14 L334.62,83.05 L334.72,82.96 L334.82,82.87 L334.82,82.87 L334.92,82.78 L335.01,82.69 L335.11,82.60 L335.21,82.51 L335.31,82.42 L335.41,82.33 L335.50,82.25 L335.60,82.16 L335.70,82.08 L335.80,81.99 L335.80,81.99 L335.89,81.91 L335.99,81.82 L336.09,81.74 L336.19,81.65 L336.29,81.57 L336.38,81.49 L336.48,81.41 L336.58,81.33 L336.68,81.25 L336.78,81.17 L336.87,81.09 L336.97,81.01 L337.07,80.93 L337.17,80.86 L337.26,80.78 L337.36,80.70 L337.46,80.63 L337.56,80.55 L337.66,80.47 L337.75,80.40 L337.75,80.40 L337.85,80.33 L337.95,80.25 L338.05,80.18 L338.14,80.11 L338.24,80.04 L338.34,79.96 L338.44,79.89 L338.54,79.82 L338.63,79.75 L338.73,79.68 L338.83,79.61 L338.93,79.55 L339.03,79.48 L339.12,79.41 L339.22,79.34 L339.32,79.28 L339.42,79.21 L339.51,79.14 L339.61,79.08 L339.71,79.01 L339.71,79.01 L339.81,78.95 L339.91,78.89 L340.00,78.82 L340.10,78.76 L340.20,78.70 L340.30,78.63 L340.40,78.57 L340.49,78.51 L340.59,78.45 L340.69,78.39 L340.69,78.39 L340.79,78.33 L340.88,78.27 L340.98,78.21 L341.08,78.15 L341.18,78.09 L341.28,78.04 L341.37,77.98 L341.47,77.92 L341.57,77.86 L341.67,77.81 L341.76,77.75 L341.86,77.70 L341.96,77.64 L342.06,77.59 L342.16,77.53 L342.25,77.48 L342.35,77.42 L342.45,77.37 L342.55,77.32 L342.65,77.27 L342.65,77.27 L343.62,76.76 L344.60,76.29 L345.58,75.85 L346.56,75.44 L347.54,75.06 L348.52,74.70 L349.49,74.37 L350.47,74.05 L351.45,73.76 L352.43,73.48 L353.41,73.23 L354.39,72.98 L355.36,72.75 L356.34,72.54 L357.32,72.34 L358.30,72.15 L359.28,71.97 L360.26,71.80 L361.23,71.64 L362.21,71.49 L363.19,71.35 L364.17,71.21 L365.15,71.09 L366.13,70.96 L367.10,70.85 L368.08,70.74 L369.06,70.64 L370.04,70.54 L371.02,70.45 L372.00,70.36 L372.97,70.28 L373.95,70.20 L374.93,70.12 L375.91,70.05 L376.89,69.98 L377.87,69.91 L378.84,69.85 L379.82,69.79 L380.80,69.74 L381.78,69.68 L382.76,69.63 L383.74,69.58 L384.71,69.54 L385.69,69.49 L386.67,69.45 L387.65,69.41 L388.63,69.37 L389.61,69.34 L390.58,69.30 L391.56,69.27 L392.54,69.24 L393.52,69.21 L394.50,69.18 L395.48,69.16 L396.45,69.13 L397.43,69.11 L398.41,69.09 L399.39,69.07 L400.37,69.05 L401.35,69.03 L402.32,69.01 L403.30,69.00 L404.28,68.98 L405.26,68.97 L406.24,68.96 L407.22,68.95 L408.19,68.94 L409.17,68.93 L410.15,68.92 L411.13,68.91 L412.11,68.91 L413.09,68.90 L414.06,68.90 L415.04,68.90 L416.02,68.89 L417.00,68.89 L417.98,68.89 L418.96,68.90 L419.94,68.90 L420.91,68.90 L421.89,68.91 L422.87,68.91 L423.85,68.92 L424.83,68.93 L425.81,68.94 L426.78,68.95 L427.76,68.96 L428.74,68.97 L429.72,68.98 L430.70,69.00 L431.68,69.01 L432.65,69.03 L433.63,69.05 L434.61,69.07 L435.59,69.09 L436.57,69.11 L437.55,69.13 L438.52,69.16 L439.50,69.18 L440.48,69.21 L441.46,69.24 L442.44,69.27 L443.42,69.30 L444.39,69.34 L445.37,69.37 L446.35,69.41 L447.33,69.45 L448.31,69.49 L449.29,69.54 L450.26,69.58 L451.24,69.63 L452.22,69.68 L453.20,69.74 L454.18,69.79 L455.16,69.85 L456.13,69.91 L457.11,69.98 L458.09,70.05 L459.07,70.12 L460.05,70.20 L461.03,70.28 L462.00,70.36 L462.98,70.45 L463.96,70.54 L464.94,70.64 L465.92,70.74 L466.90,70.85 L467.87,70.96 L468.85,71.09 L469.83,71.21 L470.81,71.35 L471.79,71.49 L472.77,71.64 L473.74,71.80 L474.72,71.97 L475.70,72.15 L476.68,72.34 L477.66,72.54 L478.64,72.75 L479.61,72.98 L480.59,73.23 L481.57,73.48 L482.55,73.76 L483.53,74.05 L484.51,74.37 L485.48,74.70 L486.46,75.06 L487.44,75.44 L488.42,75.85 L489.40,76.29 L490.38,76.76 L491.35,77.27 L491.35,77.27 L491.45,77.32 L491.55,77.37 L491.65,77.42 L491.75,77.48 L491.84,77.53 L491.94,77.59 L492.04,77.64 L492.14,77.70 L492.24,77.75 L492.33,77.81 L492.33,77.81 L492.43,77.86 L492.53,77.92 L492.63,77.98 L492.72,78.04 L492.82,78.09 L492.92,78.15 L493.02,78.21 L493.12,78.27 L493.21,78.33 L493.31,78.39 L493.31,78.39 L493.41,78.45 L493.51,78.51 L493.60,78.57 L493.70,78.63 L493.80,78.70 L493.90,78.76 L494.00,78.82 L494.09,78.89 L494.19,78.95 L494.29,79.01 L494.29,79.01 L494.39,79.08 L494.49,79.14 L494.58,79.21 L494.68,79.28 L494.78,79.34 L494.88,79.41 L494.97,79.48 L495.07,79.55 L495.17,79.61 L495.27,79.68 L495.37,79.75 L495.46,79.82 L495.56,79.89 L495.66,79.96 L495.76,80.04 L495.86,80.11 L495.95,80.18 L496.05,80.25 L496.15,80.33 L496.25,80.40 L496.25,80.40 L496.34,80.47 L496.44,80.55 L496.54,80.63 L496.64,80.70 L496.74,80.78 L496.83,80.86 L496.93,80.93 L497.03,81.01 L497.13,81.09 L497.22,81.17 L497.22,81.17 L497.32,81.25 L497.42,81.33 L497.52,81.41 L497.62,81.49 L497.71,81.57 L497.81,81.65 L497.91,81.74 L498.01,81.82 L498.11,81.91 L498.20,81.99 L498.20,81.99 L498.30,82.08 L498.40,82.16 L498.50,82.25 L498.59,82.33 L498.69,82.42 L498.79,82.51 L498.89,82.60 L498.99,82.69 L499.08,82.78 L499.18,82.87 L499.18,82.87 L499.28,82.96 L499.38,83.05 L499.47,83.14 L499.57,83.23 L499.67,83.33 L499.77,83.42 L499.87,83.51 L499.96,83.61 L500.06,83.70 L500.16,83.80 L500.26,83.90 L500.36,83.99 L500.45,84.09 L500.55,84.19 L500.65,84.29 L500.75,84.38 L500.84,84.48 L500.94,84.58 L501.04,84.69 L501.14,84.79 L501.14,84.79 L501.24,84.89 L501.33,84.99 L501.43,85.09 L501.53,85.20 L501.63,85.30 L501.73,85.41 L501.82,85.51 L501.92,85.62 L502.02,85.72 L502.12,85.83 L502.12,85.83 L502.21,85.93 L502.31,86.04 L502.41,86.15 L502.51,86.26 L502.61,86.37 L502.70,86.48 L502.80,86.59 L502.90,86.70 L503.00,86.81 L503.09,86.92 L503.09,86.92 L503.19,87.03 L503.29,87.14 L503.39,87.25 L503.49,87.36 L503.58,87.48 L503.68,87.59 L503.78,87.70 L503.88,87.82 L503.98,87.93 L504.07,88.05 L504.07,88.05 L504.17,88.16 L504.27,88.27 L504.37,88.39 L504.46,88.51 L504.56,88.62 L504.66,88.74 L504.76,88.85 L504.86,88.97 L504.95,89.08 L505.05,89.20 L505.15,89.32 L505.25,89.43 L505.35,89.55 L505.44,89.66 L505.54,89.78 L505.64,89.89 L505.74,90.01 L505.83,90.13 L505.93,90.24 L506.03,90.36 L506.03,90.36 L506.13,90.47 L506.23,90.58 L506.32,90.70 L506.42,90.81 L506.52,90.93 L506.62,91.04 L506.71,91.15 L506.81,91.26 L506.91,91.37 L507.01,91.48 L507.01,91.48 L507.11,91.59 L507.20,91.70 L507.30,91.81 L507.40,91.92 L507.50,92.02 L507.60,92.13 L507.69,92.23 L507.79,92.33 L507.89,92.44 L507.99,92.54 L507.99,92.54 L508.08,92.63 L508.18,92.73 L508.28,92.83 L508.38,92.92 L508.48,93.01 L508.57,93.10 L508.67,93.19 L508.77,93.28 L508.87,93.36 L508.96,93.45 L508.96,93.45 L509.06,93.53 L509.16,93.61 L509.26,93.68 L509.36,93.75 L509.45,93.82 L509.55,93.89 L509.65,93.96 L509.75,94.02 L509.85,94.08 L509.94,94.13 L510.04,94.19 L510.14,94.24 L510.24,94.28 L510.33,94.33 L510.43,94.36 L510.53,94.40 L510.63,94.43 L510.73,94.46 L510.82,94.49 L510.92,94.51 L510.92,94.51 L510.94,94.51 L510.96,94.52 L510.98,94.52 L511.00,94.52 L511.02,94.53 L511.04,94.53 L511.06,94.53 L511.08,94.54 L511.10,94.54 L511.12,94.54 L511.12,94.54 L511.14,94.54 L511.16,94.55 L511.18,94.55 L511.20,94.55 L511.22,94.55 L511.23,94.56 L511.25,94.56 L511.27,94.56 L511.29,94.56 L511.31,94.56 L511.33,94.56 L511.35,94.56 L511.37,94.57 L511.39,94.57 L511.41,94.57 L511.43,94.57 L511.45,94.57 L511.47,94.57 L511.49,94.57 L511.51,94.57 L511.53,94.57 L511.55,94.57 L511.57,94.57 L511.59,94.57 L511.61,94.57 L511.63,94.57 L511.65,94.57 L511.67,94.57 L511.68,94.57 L511.70,94.57 L511.72,94.57 L511.74,94.57 L511.76,94.57 L511.78,94.57 L511.80,94.57 L511.82,94.57 L511.84,94.57 L511.86,94.57 L511.88,94.57 L511.90,94.57 L511.90,94.57 L511.92,94.57 L511.94,94.57 L511.96,94.57 L511.98,94.57 L512.00,94.56 L512.02,94.56 L512.04,94.56 L512.06,94.56 L512.08,94.56 L512.10,94.56 L512.12,94.56 L512.13,94.56 L512.15,94.56 L512.17,94.56 L512.19,94.56 L512.21,94.57 L512.23,94.57 L512.25,94.57 L512.27,94.57 L512.29,94.57 L512.31,94.57 L512.33,94.57 L512.35,94.57 L512.37,94.58 L512.39,94.58 L512.41,94.58 L512.43,94.59 L512.45,94.59 L512.47,94.59 L512.49,94.60 L512.51,94.60 L512.53,94.61 L512.55,94.61 L512.57,94.62 L512.58,94.62 L512.60,94.63 L512.62,94.64 L512.64,94.64 L512.66,94.65 L512.68,94.66 L512.68,94.66 L512.70,94.67 L512.72,94.68 L512.74,94.69 L512.76,94.70 L512.78,94.71 L512.80,94.72 L512.82,94.74 L512.84,94.75 L512.86,94.76 L512.88,94.78 L512.88,94.78 L512.90,94.79 L512.92,94.81 L512.94,94.83 L512.96,94.85 L512.98,94.87 L513.00,94.89 L513.02,94.91 L513.03,94.93 L513.05,94.96 L513.07,94.98 L513.09,95.01 L513.11,95.04 L513.13,95.06 L513.15,95.10 L513.17,95.13 L513.19,95.16 L513.21,95.19 L513.23,95.23 L513.25,95.27 L513.27,95.31 L513.29,95.35 L513.31,95.39 L513.33,95.43 L513.35,95.48 L513.37,95.52 L513.39,95.57 L513.41,95.63 L513.43,95.68 L513.45,95.73 L513.47,95.79 L513.48,95.85 L513.50,95.91 L513.52,95.98 L513.54,96.04 L513.56,96.11 L513.56,96.11 L513.58,96.18 L513.60,96.26 L513.62,96.33 L513.64,96.41 L513.66,96.49 L513.68,96.58 L513.70,96.66 L513.72,96.75 L513.74,96.85 L513.76,96.94 L513.78,97.04 L513.80,97.15 L513.82,97.25 L513.84,97.36 L513.86,97.47 L513.86,97.47 L513.88,97.59 L513.90,97.71 L513.92,97.83 L513.93,97.95 L513.95,98.08 L513.97,98.22 L513.99,98.36 L514.01,98.50 L514.03,98.64 L514.05,98.79 L514.07,98.94 L514.09,99.10 L514.11,99.26 L514.13,99.43 L514.15,99.60 L514.17,99.77 L514.19,99.95 L514.21,100.14 L514.23,100.32 L514.25,100.52 L514.27,100.71 L514.29,100.91 L514.31,101.12 L514.33,101.33 L514.35,101.55 L514.37,101.77 L514.38,101.99 L514.40,102.22 L514.42,102.46 L514.44,102.70 L514.46,102.94 L514.48,103.19 L514.50,103.45 L514.52,103.71 L514.54,103.97 L514.56,104.24 L514.58,104.51 L514.60,104.79 L514.62,105.08 L514.64,105.37 L514.66,105.66 L514.68,105.96 L514.70,106.26 L514.72,106.57 L514.74,106.89 L514.76,107.20 L514.76,107.27" stroke="#3add27" stroke-dasharray="5.9 5.74"/>
<path d="M514.84,108.52 L514.85,108.86 L514.87,109.21 L514.89,109.56 L514.91,109.92 L514.93,110.27 L514.95,110.64 L514.97,111.00 L514.99,111.38 L515.01,111.75 L515.03,112.13 L515.05,112.51 L515.07,112.90 L515.09,113.29 L515.11,113.68 L515.13,114.08 L515.13,114.08 L515.15,114.48 L515.17,114.88 L515.19,115.29 L515.21,115.70 L515.23,116.11 L515.25,116.53 L515.27,116.95 L515.29,117.37 L515.30,117.79 L515.32,118.22 L515.34,118.64 L515.36,119.07 L515.38,119.51 L515.40,119.94 L515.42,120.38 L515.44,120.82 L515.46,121.25 L515.48,121.70 L515.50,122.14 L515.52,122.58 L515.54,123.03 L515.56,123.47 L515.58,123.92 L515.60,124.37 L515.62,124.82 L515.64,125.26 L515.66,125.71 L515.68,126.16 L515.70,126.62 L515.72,127.07 L515.74,127.52 L515.75,127.97 L515.77,128.42 L515.79,128.87 L515.81,129.32 L515.81,129.32 L515.83,129.77 L515.85,130.22 L515.87,130.67 L515.89,131.12 L515.91,131.57 L515.93,132.02 L515.95,132.47 L515.97,132.91 L515.99,133.36 L516.01,133.80 L516.01,133.80 L516.03,134.25 L516.05,134.69 L516.07,135.13 L516.09,135.57 L516.11,136.01 L516.13,136.45 L516.15,136.88 L516.17,137.32 L516.19,137.75 L516.20,138.18 L516.22,138.62 L516.24,139.04 L516.26,139.47 L516.28,139.90 L516.30,140.32 L516.32,140.74 L516.34,141.16 L516.36,141.58 L516.38,142.00 L516.40,142.41 L516.42,142.83 L516.44,143.24 L516.46,143.65 L516.48,144.05 L516.50,144.46 L516.52,144.86 L516.54,145.26 L516.56,145.66 L516.58,146.06 L516.60,146.45 L516.62,146.84 L516.64,147.23 L516.65,147.62 L516.67,148.01 L516.69,148.39 L516.71,148.77 L516.73,149.15 L516.75,149.53 L516.77,149.90 L516.79,150.28 L516.79,150.28 L516.81,150.65 L516.83,151.02 L516.85,151.38 L516.87,151.75 L516.89,152.11 L516.91,152.47 L516.93,152.82 L516.95,153.18 L516.97,153.53 L516.99,153.88 L517.01,154.23 L517.03,154.58 L517.05,154.92 L517.07,155.26 L517.09,155.60 L517.10,155.94 L517.12,156.27 L517.14,156.61 L517.16,156.94 L517.18,157.26 L517.20,157.59 L517.22,157.91 L517.24,158.24 L517.26,158.56 L517.28,158.87 L517.30,159.19 L517.32,159.50 L517.34,159.81 L517.36,160.12 L517.38,160.43 L517.40,160.73 L517.42,161.04 L517.44,161.34 L517.46,161.64 L517.48,161.93 L517.50,162.23 L517.52,162.52 L517.54,162.81 L517.55,163.10 L517.57,163.38 L517.57,163.38 L517.59,163.67 L517.61,163.95 L517.63,164.23 L517.65,164.51 L517.67,164.79 L517.69,165.06 L517.71,165.33 L517.73,165.61 L517.75,165.87 L517.77,166.14 L517.77,166.14 L517.79,166.41 L517.81,166.67 L517.83,166.93 L517.85,167.19 L517.87,167.45 L517.89,167.71 L517.91,167.96 L517.93,168.21 L517.95,168.46 L517.97,168.71 L517.99,168.96 L518.00,169.21 L518.02,169.45 L518.04,169.69 L518.06,169.93 L518.08,170.17 L518.10,170.41 L518.12,170.64 L518.14,170.88 L518.16,171.11 L518.18,171.34 L518.20,171.57 L518.22,171.80 L518.24,172.02 L518.26,172.25 L518.28,172.47 L518.30,172.69 L518.32,172.91 L518.34,173.13 L518.36,173.34 L518.38,173.56 L518.40,173.77 L518.42,173.99 L518.44,174.20 L518.45,174.40 L518.45,174.40 L518.47,174.61 L518.49,174.82 L518.51,175.02 L518.53,175.23 L518.55,175.43 L518.57,175.63 L518.59,175.83 L518.61,176.03 L518.63,176.22 L518.65,176.42 L518.67,176.61 L518.69,176.81 L518.71,177.00 L518.73,177.19 L518.75,177.38 L518.75,177.38 L518.85,178.30 L518.94,179.19 L519.04,180.06 L519.14,180.89 L519.24,181.70 L519.34,182.48 L519.43,183.24 L519.53,183.97 L519.63,184.68 L519.73,185.37 L519.82,186.03 L519.92,186.68 L520.02,187.30 L520.12,187.91 L520.22,188.50 L520.31,189.07 L520.41,189.62 L520.51,190.15 L520.61,190.67 L520.71,191.18 L520.71,191.18 L520.80,191.67 L520.90,192.14 L521.00,192.60 L521.10,193.05 L521.19,193.49 L521.29,193.91 L521.39,194.32 L521.49,194.72 L521.59,195.11 L521.68,195.49 L521.68,195.49 L521.78,195.85 L521.88,196.21 L521.98,196.56 L522.07,196.90 L522.17,197.23 L522.27,197.55 L522.37,197.86 L522.47,198.16 L522.56,198.46 L522.66,198.75 L522.66,198.75 L522.76,199.03 L522.86,199.30 L522.96,199.56 L523.05,199.82 L523.15,200.08 L523.25,200.32 L523.35,200.56 L523.44,200.80 L523.54,201.03 L523.64,201.25 L523.64,201.25 L523.74,201.46 L523.84,201.68 L523.93,201.88 L524.03,202.08 L524.13,202.28 L524.23,202.47 L524.32,202.66 L524.42,202.84 L524.52,203.02 L524.62,203.20 L524.72,203.37 L524.81,203.53 L524.91,203.69 L525.01,203.85 L525.11,204.01 L525.21,204.16 L525.30,204.31 L525.40,204.45 L525.50,204.59 L525.60,204.73 L525.60,204.73 L525.69,204.86 L525.79,204.99 L525.89,205.12 L525.99,205.25 L526.09,205.37 L526.18,205.49 L526.28,205.61 L526.38,205.72 L526.48,205.84 L526.58,205.95 L526.58,205.95 L526.67,206.05 L526.77,206.16 L526.87,206.26 L526.97,206.36 L527.06,206.46 L527.16,206.56 L527.26,206.65 L527.36,206.74 L527.46,206.83 L527.55,206.92 L527.55,206.92 L527.65,207.01 L527.75,207.09 L527.85,207.18 L527.94,207.26 L528.04,207.34 L528.14,207.42 L528.24,207.49 L528.34,207.57 L528.43,207.64 L528.53,207.71 L528.53,207.71 L528.63,207.78 L528.73,207.85 L528.83,207.92 L528.92,207.98 L529.02,208.05 L529.12,208.11 L529.22,208.17 L529.31,208.23 L529.41,208.29 L529.51,208.35 L529.61,208.41 L529.71,208.46 L529.80,208.52 L529.90,208.57 L530.00,208.63 L530.10,208.68 L530.20,208.73 L530.29,208.78 L530.39,208.83 L530.49,208.88 L530.49,208.88 L530.59,208.92 L530.68,208.97 L530.78,209.01 L530.88,209.06 L530.98,209.10 L531.08,209.14 L531.17,209.19 L531.27,209.23 L531.37,209.27 L531.47,209.31 L531.47,209.31 L531.56,209.35 L531.66,209.38 L531.76,209.42 L531.86,209.46 L531.96,209.49 L532.05,209.53 L532.15,209.56 L532.25,209.60 L532.35,209.63 L532.45,209.66 L532.45,209.66 L532.54,209.70 L532.64,209.73 L532.74,209.76 L532.84,209.79 L532.93,209.82 L533.03,209.85 L533.13,209.88 L533.23,209.91 L533.33,209.93 L533.42,209.96 L533.42,209.96 L533.52,209.99 L533.62,210.01 L533.72,210.04 L533.81,210.07 L533.91,210.09 L534.01,210.12 L534.11,210.14 L534.21,210.16 L534.30,210.19 L534.40,210.21 L534.50,210.23 L534.60,210.25 L534.70,210.28 L534.79,210.30 L534.89,210.32 L534.99,210.34 L535.09,210.36 L535.18,210.38 L535.28,210.40 L535.38,210.42 L535.38,210.42 L535.48,210.44 L535.58,210.46 L535.67,210.47 L535.77,210.49 L535.87,210.51 L535.97,210.53 L536.07,210.54 L536.16,210.56 L536.26,210.58 L536.36,210.59 L536.36,210.59 L536.46,210.61 L536.55,210.63 L536.65,210.64 L536.75,210.66 L536.85,210.67 L536.95,210.69 L537.04,210.70 L537.14,210.71 L537.24,210.73 L537.34,210.74 L537.34,210.74 L537.43,210.76 L537.53,210.77 L537.63,210.78 L537.73,210.80 L537.83,210.81 L537.92,210.82 L538.02,210.83 L538.12,210.85 L538.22,210.86 L538.32,210.87 L538.32,210.87 L539.29,210.98 L540.27,211.07 L541.25,211.15 L542.23,211.22 L543.21,211.28 L544.19,211.33 L545.16,211.37 L546.14,211.41 L547.12,211.45 L548.10,211.48 L549.08,211.51 L550.06,211.53 L551.03,211.55 L552.01,211.57 L552.99,211.59 L553.97,211.60 L554.95,211.61 L555.93,211.63 L556.90,211.64 L557.88,211.65 L558.86,211.65 L559.84,211.66 L560.82,211.67 L561.80,211.67 L562.77,211.68 L563.75,211.69 L564.73,211.69 L565.71,211.69 L566.69,211.70 L567.67,211.70 L568.64,211.71 L569.62,211.71 L570.60,211.71 L571.58,211.71 L572.56,211.72 L573.54,211.72 L574.51,211.72 L575.49,211.72 L576.47,211.72 L577.45,211.73 L578.43,211.73 L579.41,211.73 L580.38,211.73 L581.36,211.73 L582.34,211.73 L583.32,211.73 L584.30,211.73 L585.28,211.74 L586.25,211.74 L587.23,211.74 L588.21,211.74 L589.19,211.74 L590.17,211.74 L591.15,211.74 L592.12,211.74 L593.10,211.74 L594.08,211.74 L595.06,211.74 L596.04,211.74 L597.02,211.74 L597.99,211.74 L598.97,211.74 L599.95,211.74 L600.93,211.74 L601.91,211.74 L602.89,211.74 L603.86,211.74 L604.84,211.74 L605.82,211.74 L606.80,211.75 L607.78,211.75 L608.76,211.75 L609.73,211.75 L610.71,211.75 L611.69,211.75 L612.67,211.75 L613.65,211.75 L614.63,211.75 L615.61,211.75 L616.58,211.75 L617.56,211.75 L618.54,211.75 L619.52,211.75 L620.50,211.75 L621.48,211.75 L622.45,211.75 L623.43,211.75 L624.41,211.75 L625.39,211.75 L626.37,211.75 L627.35,211.75 L628.32,211.75 L629.30,211.75 L630.28,211.75 L631.26,211.75 L632.24,211.75 L633.22,211.75 L634.19,211.75 L635.17,211.75 L636.15,211.75 L637.13,211.75 L638.11,211.75 L639.09,211.75 L640.06,211.75 L641.04,211.75 L642.02,211.75 L643.00,211.75 L643.98,211.75 L644.96,211.75 L645.93,211.75 L646.91,211.75 L647.89,211.75 L648.87,211.75 L649.85,211.75 L650.83,211.75 L651.80,211.75 L652.78,211.75 L653.76,211.75 L654.74,211.75 L655.72,211.75 L656.70,211.75 L657.67,211.75 L658.65,211.75 L659.63,211.75 L660.61,211.75 L661.59,211.75 L662.57,211.75 L663.54,211.75 L664.52,211.75 L665.50,211.75 L666.48,211.75 L667.46,211.75 L668.44,211.75 L669.41,211.75 L670.39,211.75 L671.37,211.75 L672.35,211.75 L673.33,211.75 L674.31,211.75 L675.28,211.75 L676.26,211.75 L677.24,211.75 L678.22,211.75 L679.20,211.75 L680.18,211.75 L681.15,211.75 L682.13,211.75 L683.11,211.75 L684.09,211.75 L685.07,211.75 L686.05,211.75 L687.02,211.75 L688.00,211.75 L688.98,211.75 L689.96,211.75 L690.94,211.75 L691.92,211.75 L692.89,211.75 L693.87,211.75 L694.85,211.75 L695.83,211.75 L696.81,211.75 L697.79,211.75 L698.76,211.75 L699.74,211.75 L700.72,211.75 L701.70,211.75 L702.68,211.75 L703.66,211.75 L704.63,211.75 L705.61,211.75 L706.59,211.75 L707.57,211.75 L708.55,211.75 L709.53,211.75 L710.50,211.75" stroke="#3add27" stroke-dasharray="5.9 5.7"/>
<path d="M123.50,408.65 L124.47,408.65 L125.45,408.65 L126.43,408.65 L127.41,408.65 L128.39,408.65 L129.37,408.65 L130.34,408.65 L131.32,408.65 L132.30,408.65 L133.28,408.65 L134.26,408.65 L135.24,408.65 L136.21,408.65 L137.19,408.65 L138.17,408.65 L139.15,408.65 L140.13,408.65 L141.11,408.65 L142.08,408.65 L143.06,408.65 L144.04,408.65 L145.02,408.65 L146.00,408.65 L146.98,408.65 L147.95,408.65 L148.93,408.65 L149.91,408.65 L150.89,408.65 L151.87,408.65 L152.85,408.65 L153.82,408.65 L154.80,408.65 L155.78,408.65 L156.76,408.65 L157.74,408.65 L158.72,408.65 L159.69,408.65 L160.67,408.65 L161.65,408.65 L162.63,408.65 L163.61,408.65 L164.59,408.65 L165.56,408.65 L166.54,408.65 L167.52,408.65 L168.50,408.65 L169.48,408.65 L170.46,408.65 L171.43,408.65 L172.41,408.65 L173.39,408.65 L174.37,408.65 L175.35,408.65 L176.33,408.65 L177.30,408.65 L178.28,408.65 L179.26,408.65 L180.24,408.65 L181.22,408.65 L182.20,408.65 L183.17,408.65 L184.15,408.65 L185.13,408.65 L186.11,408.65 L187.09,408.65 L188.07,408.65 L189.04,408.65 L190.02,408.65 L191.00,408.65 L191.98,408.65 L192.96,408.65 L193.94,408.65 L194.91,408.65 L195.89,408.65 L196.87,408.65 L197.85,408.65 L198.83,408.65 L199.81,408.65 L200.78,408.65 L201.76,408.65 L202.74,408.65 L203.72,408.65 L204.70,408.65 L205.68,408.65 L206.65,408.65 L207.63,408.65 L208.61,408.65 L209.59,408.65 L210.57,408.65 L211.55,408.65 L212.52,408.65 L213.50,408.65 L214.48,408.65 L215.46,408.65 L216.44,408.65 L217.42,408.65 L218.39,408.65 L219.37,408.65 L220.35,408.65 L221.33,408.65 L222.31,408.65 L223.29,408.65 L224.27,408.65 L225.24,408.65 L226.22,408.65 L227.20,408.65 L228.18,408.65 L229.16,408.65 L230.14,408.65 L231.11,408.65 L232.09,408.65 L233.07,408.65 L234.05,408.65 L235.03,408.65 L236.01,408.65 L236.98,408.65 L237.96,408.65 L238.94,408.65 L239.92,408.65 L240.90,408.65 L241.88,408.65 L242.85,408.65 L243.83,408.65 L244.81,408.65 L245.79,408.65 L246.77,408.65 L247.75,408.65 L248.72,408.65 L249.70,408.65 L250.68,408.65 L251.66,408.65 L252.64,408.65 L253.62,408.65 L254.59,408.65 L255.57,408.65 L256.55,408.65 L257.53,408.65 L258.51,408.65 L259.49,408.65 L260.46,408.65 L261.44,408.65 L262.42,408.65 L263.40,408.65 L264.38,408.65 L265.36,408.65 L266.33,408.65 L267.31,408.64 L268.29,408.64 L269.27,408.64 L270.25,408.64 L271.23,408.64 L272.20,408.64 L273.18,408.64 L274.16,408.64 L275.14,408.64 L276.12,408.64 L277.10,408.64 L278.07,408.63 L279.05,408.63 L280.03,408.63 L281.01,408.63 L281.99,408.63 L282.97,408.62 L283.94,408.62 L284.92,408.62 L285.90,408.61 L286.88,408.61 L287.86,408.60 L288.84,408.60 L289.81,408.59 L290.79,408.58 L291.77,408.57 L292.75,408.56 L293.73,408.54 L294.71,408.53 L295.68,408.51 L295.68,408.51 L295.78,408.51 L295.88,408.50 L295.98,408.50 L296.08,408.50 L296.17,408.50 L296.27,408.49 L296.37,408.49 L296.47,408.49 L296.57,408.49 L296.66,408.48 L296.76,408.48 L296.86,408.48 L296.96,408.48 L297.05,408.47 L297.15,408.47 L297.25,408.47 L297.35,408.46 L297.45,408.46 L297.54,408.46 L297.64,408.46 L297.74,408.45 L297.84,408.45 L297.93,408.45 L298.03,408.44 L298.13,408.44 L298.23,408.44 L298.33,408.43 L298.42,408.43 L298.52,408.43 L298.62,408.42 L298.62,408.42 L298.72,408.42 L298.82,408.41 L298.91,408.41 L299.01,408.41 L299.11,408.40 L299.21,408.40 L299.30,408.39 L299.40,408.39 L299.50,408.38 L299.60,408.38 L299.70,408.38 L299.79,408.37 L299.89,408.37 L299.99,408.36 L300.09,408.36 L300.19,408.35 L300.28,408.35 L300.38,408.34 L300.48,408.34 L300.58,408.33 L300.58,408.33 L300.67,408.32 L300.77,408.32 L300.87,408.31 L300.97,408.31 L301.07,408.30 L301.16,408.29 L301.26,408.29 L301.36,408.28 L301.46,408.27 L301.55,408.27 L301.65,408.26 L301.75,408.25 L301.85,408.25 L301.95,408.24 L302.04,408.23 L302.14,408.22 L302.24,408.22 L302.34,408.21 L302.44,408.20 L302.53,408.19 L302.63,408.18 L302.73,408.18 L302.83,408.17 L302.92,408.16 L303.02,408.15 L303.12,408.14 L303.22,408.13 L303.32,408.12 L303.41,408.11 L303.51,408.10 L303.51,408.10 L303.61,408.09 L303.71,408.08 L303.80,408.07 L303.90,408.06 L304.00,408.04 L304.10,408.03 L304.20,408.02 L304.29,408.01 L304.39,408.00 L304.49,407.98 L304.59,407.97 L304.69,407.96 L304.78,407.94 L304.88,407.93 L304.98,407.91 L305.08,407.90 L305.17,407.88 L305.27,407.87 L305.37,407.85 L305.47,407.84 L305.47,407.84 L305.57,407.82 L305.66,407.80 L305.76,407.79 L305.86,407.77 L305.96,407.75 L306.06,407.73 L306.15,407.71 L306.25,407.69 L306.35,407.67 L306.45,407.65 L306.54,407.63 L306.64,407.61 L306.74,407.59 L306.84,407.57 L306.94,407.54 L307.03,407.52 L307.13,407.50 L307.23,407.47 L307.33,407.45 L307.42,407.42 L307.52,407.39 L307.62,407.37 L307.72,407.34 L307.82,407.31 L307.91,407.28 L308.01,407.25 L308.11,407.22 L308.21,407.19 L308.31,407.15 L308.40,407.12 L308.40,407.12 L308.50,407.09 L308.60,407.05 L308.70,407.01 L308.79,406.98 L308.89,406.94 L308.99,406.90 L309.09,406.86 L309.19,406.82 L309.28,406.77 L309.38,406.73 L309.48,406.69 L309.58,406.64 L309.68,406.59 L309.77,406.54 L309.87,406.49 L309.97,406.44 L310.07,406.39 L310.16,406.34 L310.26,406.28 L310.36,406.22 L310.36,406.22 L310.46,406.16 L310.56,406.10 L310.65,406.04 L310.75,405.98 L310.85,405.91 L310.95,405.84 L311.04,405.77 L311.14,405.70 L311.24,405.62 L311.34,405.55 L311.34,405.55 L311.44,405.47 L311.53,405.39 L311.63,405.30 L311.73,405.22 L311.83,405.13 L311.93,405.04 L312.02,404.94 L312.12,404.84 L312.22,404.74 L312.32,404.64 L312.41,404.53 L312.51,404.42 L312.61,404.30 L312.71,404.18 L312.81,404.06 L312.90,403.93 L313.00,403.80 L313.10,403.67 L313.20,403.53 L313.29,403.38 L313.29,403.38 L313.39,403.23 L313.49,403.07 L313.59,402.91 L313.69,402.75 L313.78,402.57 L313.88,402.39 L313.98,402.20 L314.08,402.01 L314.18,401.81 L314.27,401.60 L314.37,401.38 L314.47,401.15 L314.57,400.92 L314.66,400.67 L314.76,400.42 L314.86,400.15 L314.96,399.87 L315.06,399.58 L315.15,399.28 L315.25,398.96 L315.25,398.96 L315.27,398.90 L315.29,398.83 L315.31,398.76 L315.33,398.70 L315.35,398.63 L315.37,398.56 L315.39,398.49 L315.41,398.42 L315.43,398.35 L315.45,398.28 L315.45,398.28 L315.47,398.21 L315.49,398.14 L315.51,398.07 L315.53,397.99 L315.55,397.92 L315.56,397.84 L315.58,397.77 L315.60,397.69 L315.62,397.62 L315.64,397.54 L315.66,397.46 L315.68,397.38 L315.70,397.30 L315.72,397.22 L315.74,397.14 L315.76,397.06 L315.78,396.97 L315.80,396.89 L315.82,396.80 L315.84,396.72 L315.86,396.63 L315.88,396.54 L315.90,396.46 L315.92,396.37 L315.94,396.28 L315.96,396.19 L315.98,396.09 L316.00,396.00 L316.01,395.91 L316.03,395.81 L316.05,395.72 L316.07,395.62 L316.09,395.52 L316.11,395.42 L316.13,395.32 L316.15,395.22 L316.17,395.12 L316.19,395.02 L316.21,394.91 L316.23,394.81 L316.23,394.81 L316.25,394.70 L316.27,394.60 L316.29,394.49 L316.31,394.38 L316.33,394.27 L316.35,394.15 L316.37,394.04 L316.39,393.92 L316.41,393.81 L316.43,393.69 L316.45,393.57 L316.46,393.45 L316.48,393.33 L316.50,393.21 L316.52,393.08 L316.54,392.96 L316.56,392.83 L316.58,392.70 L316.60,392.57 L316.62,392.44 L316.64,392.31 L316.66,392.17 L316.68,392.03 L316.70,391.90 L316.72,391.76 L316.74,391.62 L316.76,391.47 L316.78,391.33 L316.80,391.18 L316.82,391.03 L316.84,390.88 L316.86,390.73 L316.88,390.58 L316.90,390.42 L316.91,390.26 L316.93,390.10 L316.95,389.94 L316.97,389.78 L316.99,389.61 L317.01,389.44 L317.01,389.44 L317.03,389.27 L317.05,389.10 L317.07,388.93 L317.09,388.75 L317.11,388.57 L317.13,388.39 L317.15,388.20 L317.17,388.02 L317.19,387.83 L317.21,387.64 L317.23,387.44 L317.25,387.25 L317.27,387.05 L317.29,386.85 L317.31,386.64 L317.33,386.44 L317.35,386.23 L317.36,386.01 L317.38,385.80 L317.40,385.58 L317.42,385.36 L317.44,385.13 L317.46,384.90 L317.48,384.67 L317.50,384.44 L317.52,384.20 L317.54,383.96 L317.56,383.72 L317.58,383.47 L317.60,383.22 L317.62,382.96 L317.64,382.71 L317.66,382.44 L317.68,382.18 L317.70,381.91 L317.72,381.64 L317.74,381.36 L317.76,381.08 L317.78,380.79 L317.80,380.50 L317.81,380.21 L317.83,379.91 L317.85,379.61 L317.87,379.31 L317.89,379.00 L317.89,379.00 L317.91,378.68 L317.93,378.36 L317.95,378.04 L317.97,377.71 L317.99,377.38 L318.01,377.04 L318.03,376.70 L318.05,376.35 L318.07,376.00 L318.09,375.64 L318.11,375.27 L318.13,374.91 L318.15,374.53 L318.17,374.16 L318.19,373.77 L318.19,373.77 L318.21,373.38 L318.23,372.99 L318.25,372.59 L318.26,372.18 L318.28,371.77 L318.30,371.36 L318.32,370.93 L318.34,370.50 L318.36,370.07 L318.38,369.63 L318.40,369.18 L318.42,368.73 L318.44,368.27 L318.46,367.81 L318.48,367.34 L318.50,366.87 L318.52,366.38 L318.54,365.90 L318.56,365.40 L318.58,364.90 L318.60,364.39 L318.62,363.88 L318.64,363.36 L318.66,362.84 L318.68,362.30 L318.70,361.77 L318.71,361.22 L318.73,360.67 L318.75,360.12 L318.77,359.55 L318.79,358.98 L318.81,358.41 L318.83,357.83 L318.85,357.24 L318.87,356.65 L318.89,356.05 L318.91,355.44 L318.93,354.83 L318.95,354.22 L318.97,353.59 L318.99,352.96 L319.01,352.33 L319.03,351.69 L319.05,351.05 L319.07,350.40 L319.09,349.74 L319.11,349.08 L319.13,348.41 L319.15,347.74 L319.16,347.07 L319.18,346.39 L319.20,345.70 L319.22,345.01 L319.24,344.46 L319.24,344.32 L319.26,343.62 L319.28,342.92 L319.30,342.21 L319.32,341.50 L319.34,340.78 L319.36,340.07 L319.38,339.34 L319.40,338.62 L319.42,337.89 L319.44,337.16 L319.46,336.43 L319.46,336.43 L319.48,335.69 L319.50,334.95 L319.52,334.21 L319.54,333.46 L319.56,332.72 L319.58,331.97 L319.60,331.22 L319.62,330.47 L319.63,329.71 L319.65,328.96 L319.67,328.20 L319.69,327.44 L319.71,326.69 L319.73,325.93 L319.75,325.17 L319.77,324.41 L319.79,323.65 L319.81,322.89 L319.83,322.13 L319.85,321.37 L319.87,320.61 L319.89,319.85 L319.91,319.09 L319.93,318.33 L319.95,317.57 L319.97,316.81 L319.99,316.06 L320.01,315.30 L320.03,314.55 L320.05,313.80 L320.07,313.05 L320.08,312.30 L320.10,311.55 L320.12,310.80 L320.14,310.06 L320.14,310.06 L320.16,309.32 L320.18,308.58 L320.20,307.84 L320.22,307.10 L320.24,306.37 L320.26,305.64 L320.28,304.91 L320.30,304.19 L320.32,303.46 L320.34,302.74 L320.34,302.74 L320.36,302.02 L320.38,301.31 L320.40,300.60 L320.42,299.89 L320.44,299.18 L320.46,298.48 L320.48,297.78 L320.50,297.08 L320.52,296.39 L320.53,295.70 L320.55,295.01 L320.57,294.33 L320.59,293.65 L320.61,292.97 L320.63,292.30 L320.65,291.63 L320.67,290.96 L320.69,290.30 L320.71,289.64 L320.73,288.98 L320.75,288.33 L320.77,287.68 L320.79,287.04 L320.81,286.39 L320.83,285.76 L320.85,285.12 L320.87,284.49 L320.89,283.86 L320.91,283.24 L320.93,282.62 L320.95,282.00 L320.97,281.39 L320.98,280.78 L321.00,280.18 L321.02,279.57 L321.04,278.98 L321.06,278.38 L321.08,277.79 L321.10,277.20 L321.12,276.62 L321.12,276.62 L321.14,276.04 L321.16,275.46 L321.18,274.89 L321.20,274.32 L321.22,273.75 L321.24,273.19 L321.26,272.63 L321.28,272.07 L321.30,271.52 L321.32,270.97 L321.34,270.43 L321.36,269.89 L321.38,269.35 L321.40,268.81 L321.42,268.28 L321.43,267.75 L321.45,267.23 L321.47,266.70 L321.49,266.19 L321.51,265.67 L321.53,265.16 L321.55,264.65 L321.57,264.14 L321.59,263.64 L321.61,263.14 L321.63,262.65 L321.65,262.15 L321.67,261.66 L321.69,261.18 L321.71,260.69 L321.73,260.21 L321.75,259.74 L321.77,259.26 L321.79,258.79 L321.81,258.32 L321.83,257.86 L321.85,257.39 L321.87,256.93 L321.88,256.48 L321.90,256.02 L321.90,256.02 L321.92,255.57 L321.94,255.12 L321.96,254.68 L321.98,254.23 L322.00,253.79 L322.02,253.35 L322.04,252.92 L322.06,252.49 L322.08,252.06 L322.10,251.63 L322.12,251.21 L322.14,250.79 L322.16,250.37 L322.18,249.95 L322.20,249.54 L322.22,249.12 L322.24,248.71 L322.26,248.31 L322.28,247.90 L322.30,247.50 L322.32,247.10 L322.33,246.71 L322.35,246.31 L322.37,245.92 L322.39,245.53 L322.41,245.14 L322.43,244.76 L322.45,244.37 L322.47,243.99 L322.49,243.61 L322.51,243.24 L322.53,242.86 L322.55,242.49 L322.57,242.12 L322.59,241.75 L322.61,241.39 L322.63,241.02 L322.65,240.66 L322.67,240.30 L322.69,239.94 L322.71,239.59 L322.73,239.23 L322.75,238.88 L322.77,238.53 L322.78,238.19 L322.78,238.19 L322.80,237.84 L322.82,237.50 L322.84,237.15 L322.86,236.81 L322.88,236.48 L322.90,236.14 L322.92,235.81 L322.94,235.47 L322.96,235.14 L322.98,234.81 L323.00,234.49 L323.02,234.16 L323.04,233.84 L323.06,233.52 L323.08,233.20 L323.08,233.20 L323.18,231.62 L323.27,230.08 L323.37,228.59 L323.47,227.13 L323.57,225.71 L323.67,224.32 L323.76,222.97 L323.86,221.65 L323.96,220.35 L324.06,219.09 L324.15,217.86 L324.25,216.65 L324.35,215.47 L324.45,214.32 L324.55,213.19 L324.64,212.09 L324.74,211.00 L324.84,209.94 L324.94,208.90 L325.04,207.88 L325.04,207.88 L325.13,206.89 L325.23,205.91 L325.33,204.95 L325.43,204.00 L325.52,203.08 L325.62,202.17 L325.72,201.28 L325.82,200.40 L325.92,199.54 L326.01,198.70 L326.01,198.70 L326.11,197.87 L326.21,197.05 L326.31,196.25 L326.40,195.46 L326.50,194.68 L326.60,193.92 L326.70,193.17 L326.80,192.43 L326.89,191.70 L326.99,190.99 L327.09,190.28 L327.19,189.59 L327.29,188.90 L327.38,188.23 L327.48,187.57 L327.58,186.92 L327.68,186.27 L327.77,185.64 L327.87,185.02 L327.97,184.40 L327.97,184.40 L328.07,183.79 L328.17,183.20 L328.26,182.61 L328.36,182.02 L328.46,181.45 L328.56,180.89 L328.65,180.33 L328.75,179.78 L328.85,179.24 L328.95,178.70 L329.05,178.17 L329.14,177.65 L329.24,177.14 L329.34,176.63 L329.44,176.13 L329.54,175.63 L329.63,175.14 L329.73,174.66 L329.83,174.19 L329.93,173.72 L329.93,173.72 L330.02,173.25 L330.12,172.79 L330.22,172.34 L330.32,171.89 L330.42,171.45 L330.51,171.02 L330.61,170.58 L330.71,170.16 L330.81,169.74 L330.91,169.32 L330.91,169.32 L331.00,168.91 L331.10,168.51 L331.20,168.10 L331.30,167.71 L331.39,167.32 L331.49,166.93 L331.59,166.55 L331.69,166.17 L331.79,165.80 L331.88,165.43 L331.98,165.06 L332.08,164.70 L332.18,164.34 L332.27,163.99 L332.37,163.64 L332.47,163.29 L332.57,162.95 L332.67,162.62 L332.76,162.28 L332.86,161.95 L332.86,161.95 L332.96,161.62 L333.06,161.30 L333.16,160.98 L333.25,160.67 L333.35,160.35 L333.45,160.04 L333.55,159.74 L333.64,159.44 L333.74,159.14 L333.84,158.84 L333.94,158.55 L334.04,158.26 L334.13,157.97 L334.23,157.69 L334.33,157.41 L334.43,157.13 L334.53,156.85 L334.62,156.58 L334.72,156.31 L334.82,156.04 L334.82,156.04 L334.92,155.78 L335.01,155.52 L335.11,155.26 L335.21,155.00 L335.31,154.75 L335.41,154.50 L335.50,154.25 L335.60,154.01 L335.70,153.76 L335.80,153.52 L335.80,153.52 L335.89,153.28 L335.99,153.05 L336.09,152.81 L336.19,152.58 L336.29,152.35 L336.38,152.13 L336.48,151.90 L336.58,151.68 L336.68,151.46 L336.78,151.24 L336.87,151.03 L336.97,150.81 L337.07,150.60 L337.17,150.39 L337.26,150.18 L337.36,149.98 L337.46,149.77 L337.56,149.57 L337.66,149.37 L337.75,149.17 L337.75,149.17 L337.85,148.98 L337.95,148.78 L338.05,148.59 L338.14,148.40 L338.24,148.21 L338.34,148.02 L338.44,147.84 L338.54,147.66 L338.63,147.47 L338.73,147.29 L338.83,147.11 L338.93,146.94 L339.03,146.76 L339.12,146.59 L339.22,146.42 L339.32,146.25 L339.42,146.08 L339.51,145.91 L339.61,145.74 L339.71,145.58 L339.71,145.58 L339.81,145.42 L339.91,145.26 L340.00,145.10 L340.10,144.94 L340.20,144.78 L340.30,144.62 L340.40,144.47 L340.49,144.32 L340.59,144.17 L340.69,144.02 L340.69,144.02 L340.79,143.87 L340.88,143.72 L340.98,143.57 L341.08,143.43 L341.18,143.28 L341.28,143.14 L341.37,143.00 L341.47,142.86 L341.57,142.72 L341.67,142.58 L341.76,142.45 L341.86,142.31 L341.96,142.18 L342.06,142.04 L342.16,141.91 L342.25,141.78 L342.35,141.65 L342.45,141.52 L342.55,141.40 L342.65,141.27 L342.65,141.27 L343.62,140.06 L344.60,138.95 L345.58,137.93 L346.56,136.99 L347.54,136.11 L348.52,135.30 L349.49,134.55 L350.47,133.85 L351.45,133.20 L352.43,132.60 L353.41,132.03 L354.39,131.50 L355.36,131.01 L356.34,130.55 L357.32,130.11 L358.30,129.71 L359.28,129.33 L360.26,128.97 L361.23,128.63 L362.21,128.31 L363.19,128.01 L364.17,127.72 L365.15,127.46 L366.13,127.20 L367.10,126.96 L368.08,126.74 L369.06,126.52 L370.04,126.32 L371.02,126.12 L372.00,125.94 L372.97,125.77 L373.95,125.60 L374.93,125.45 L375.91,125.30 L376.89,125.15 L377.87,125.02 L378.84,124.89 L379.82,124.77 L380.80,124.65 L381.78,124.54 L382.76,124.44 L383.74,124.34 L384.71,124.24 L385.69,124.15 L386.67,124.07 L387.65,123.99 L388.63,123.91 L389.61,123.84 L390.58,123.77 L391.56,123.70 L392.54,123.64 L393.52,123.58 L394.50,123.52 L395.48,123.47 L396.45,123.42 L397.43,123.37 L398.41,123.33 L399.39,123.29 L400.37,123.25 L401.35,123.21 L402.32,123.18 L403.30,123.14 L404.28,123.12 L405.26,123.09 L406.24,123.06 L407.22,123.04 L408.19,123.02 L409.17,123.00 L410.15,122.99 L411.13,122.98 L412.11,122.96 L413.09,122.96 L414.06,122.95 L415.04,122.94 L416.02,122.94 L417.00,122.94 L417.98,122.94 L418.96,122.94 L419.94,122.95 L420.91,122.96 L421.89,122.96 L422.87,122.98 L423.85,122.99 L424.83,123.00 L425.81,123.02 L426.78,123.04 L427.76,123.06 L428.74,123.09 L429.72,123.12 L430.70,123.14 L431.68,123.18 L432.65,123.21 L433.63,123.25 L434.61,123.29 L435.59,123.33 L436.57,123.37 L437.55,123.42 L438.52,123.47 L439.50,123.52 L440.48,123.58 L441.46,123.64 L442.44,123.70 L443.42,123.77 L444.39,123.84 L445.37,123.91 L446.35,123.99 L447.33,124.07 L448.31,124.15 L449.29,124.24 L450.26,124.34 L451.24,124.44 L452.22,124.54 L453.20,124.65 L454.18,124.77 L455.16,124.89 L456.13,125.02 L457.11,125.15 L458.09,125.30 L459.07,125.45 L460.05,125.60 L461.03,125.77 L462.00,125.94 L462.98,126.12 L463.96,126.32 L464.94,126.52 L465.92,126.74 L466.90,126.96 L467.87,127.20 L468.85,127.46 L469.83,127.72 L470.81,128.01 L471.79,128.31 L472.77,128.63 L473.74,128.97 L474.72,129.33 L475.70,129.71 L476.68,130.11 L477.66,130.55 L478.64,131.01 L479.61,131.50 L480.59,132.03 L481.57,132.60 L482.55,133.20 L483.53,133.85 L484.51,134.55 L485.48,135.30 L486.46,136.11 L487.44,136.99 L488.42,137.93 L489.40,138.95 L490.38,140.06 L491.35,141.27 L491.35,141.27 L491.45,141.40 L491.55,141.52 L491.65,141.65 L491.75,141.78 L491.84,141.91 L491.94,142.04 L492.04,142.18 L492.14,142.31 L492.24,142.45 L492.33,142.58 L492.33,142.58 L492.43,142.72 L492.53,142.86 L492.63,143.00 L492.72,143.14 L492.82,143.28 L492.92,143.43 L493.02,143.57 L493.12,143.72 L493.21,143.87 L493.31,144.02 L493.31,144.02 L493.41,144.17 L493.51,144.32 L493.60,144.47 L493.70,144.62 L493.80,144.78 L493.90,144.94 L494.00,145.10 L494.09,145.26 L494.19,145.42 L494.29,145.58 L494.29,145.58 L494.39,145.74 L494.49,145.91 L494.58,146.08 L494.68,146.25 L494.78,146.42 L494.88,146.59 L494.97,146.76 L495.07,146.94 L495.17,147.11 L495.27,147.29 L495.37,147.47 L495.46,147.66 L495.56,147.84 L495.66,148.02 L495.76,148.21 L495.86,148.40 L495.95,148.59 L496.05,148.78 L496.15,148.98 L496.25,149.17 L496.25,149.17 L496.34,149.37 L496.44,149.57 L496.54,149.77 L496.64,149.98 L496.74,150.18 L496.83,150.39 L496.93,150.60 L497.03,150.81 L497.13,151.03 L497.22,151.24 L497.22,151.24 L497.32,151.46 L497.42,151.68 L497.52,151.90 L497.62,152.13 L497.71,152.35 L497.81,152.58 L497.91,152.81 L498.01,153.05 L498.11,153.28 L498.20,153.52 L498.20,153.52 L498.30,153.76 L498.40,154.01 L498.50,154.25 L498.59,154.50 L498.69,154.75 L498.79,155.00 L498.89,155.26 L498.99,155.52 L499.08,155.78 L499.18,156.04 L499.18,156.04 L499.28,156.31 L499.38,156.58 L499.47,156.85 L499.57,157.13 L499.67,157.41 L499.77,157.69 L499.87,157.97 L499.96,158.26 L500.06,158.55 L500.16,158.84 L500.26,159.14 L500.36,159.44 L500.45,159.74 L500.55,160.04 L500.65,160.35 L500.75,160.67 L500.84,160.98 L500.94,161.30 L501.04,161.62 L501.14,161.95 L501.14,161.95 L501.24,162.28 L501.33,162.62 L501.43,162.95 L501.53,163.29 L501.63,163.64 L501.73,163.99 L501.82,164.34 L501.92,164.70 L502.02,165.06 L502.12,165.43 L502.12,165.43 L502.21,165.80 L502.31,166.17 L502.41,166.55 L502.51,166.93 L502.61,167.32 L502.70,167.71 L502.80,168.10 L502.90,168.51 L503.00,168.91 L503.09,169.32 L503.09,169.32 L503.19,169.74 L503.29,170.16 L503.39,170.58 L503.49,171.02 L503.58,171.45 L503.68,171.89 L503.78,172.34 L503.88,172.79 L503.98,173.25 L504.07,173.72 L504.07,173.72 L504.17,174.19 L504.27,174.66 L504.37,175.14 L504.46,175.63 L504.56,176.13 L504.66,176.63 L504.76,177.14 L504.86,177.65 L504.95,178.17 L505.05,178.70 L505.15,179.24 L505.25,179.78 L505.35,180.33 L505.44,180.89 L505.54,181.45 L505.64,182.02 L505.74,182.61 L505.83,183.20 L505.93,183.79 L506.03,184.40 L506.03,184.40 L506.13,185.02 L506.23,185.64 L506.32,186.27 L506.42,186.92 L506.52,187.57 L506.62,188.23 L506.71,188.90 L506.81,189.59 L506.91,190.28 L507.01,190.99 L507.01,190.99 L507.11,191.70 L507.20,192.43 L507.30,193.17 L507.40,193.92 L507.50,194.68 L507.60,195.46 L507.69,196.25 L507.79,197.05 L507.89,197.87 L507.99,198.70 L507.99,198.70 L508.08,199.54 L508.18,200.40 L508.28,201.28 L508.38,202.17 L508.48,203.08 L508.57,204.00 L508.67,204.95 L508.77,205.91 L508.87,206.89 L508.96,207.88 L508.96,207.88 L509.06,208.90 L509.16,209.94 L509.26,211.00 L509.36,212.09 L509.45,213.19 L509.55,214.32 L509.65,215.47 L509.75,216.65 L509.85,217.86 L509.94,219.09 L510.04,220.35 L510.14,221.65 L510.24,222.97 L510.33,224.32 L510.43,225.71 L510.53,227.13 L510.63,228.59 L510.73,230.08 L510.82,231.62 L510.92,233.20 L510.92,233.20 L510.94,233.52 L510.96,233.84 L510.98,234.16 L511.00,234.49 L511.02,234.81 L511.04,235.14 L511.06,235.47 L511.08,235.81 L511.10,236.14 L511.12,236.48 L511.12,236.48 L511.14,236.81 L511.16,237.15 L511.18,237.50 L511.20,237.84 L511.22,238.19 L511.23,238.53 L511.25,238.88 L511.27,239.23 L511.29,239.59 L511.31,239.94 L511.33,240.30 L511.35,240.66 L511.37,241.02 L511.39,241.39 L511.41,241.75 L511.43,242.12 L511.45,242.49 L511.47,242.86 L511.49,243.24 L511.51,243.61 L511.53,243.99 L511.55,244.37 L511.57,244.76 L511.59,245.14 L511.61,245.53 L511.63,245.92 L511.65,246.31 L511.67,246.71 L511.68,247.10 L511.70,247.50 L511.72,247.90 L511.74,248.31 L511.76,248.71 L511.78,249.12 L511.80,249.54 L511.82,249.95 L511.84,250.37 L511.86,250.79 L511.88,251.21 L511.90,251.63 L511.90,251.63 L511.92,252.06 L511.94,252.49 L511.96,252.92 L511.98,253.35 L512.00,253.79 L512.02,254.23 L512.04,254.68 L512.06,255.12 L512.08,255.57 L512.10,256.02 L512.12,256.48 L512.13,256.93 L512.15,257.39 L512.17,257.86 L512.19,258.32 L512.21,258.79 L512.23,259.26 L512.25,259.74 L512.27,260.21 L512.29,260.69 L512.31,261.18 L512.33,261.66 L512.35,262.15 L512.37,262.65 L512.39,263.14 L512.41,263.64 L512.43,264.14 L512.45,264.65 L512.47,265.16 L512.49,265.67 L512.51,266.19 L512.53,266.70 L512.55,267.23 L512.57,267.75 L512.58,268.28 L512.60,268.81 L512.62,269.35 L512.64,269.89 L512.66,270.43 L512.68,270.97 L512.68,270.97 L512.70,271.52 L512.72,272.07 L512.74,272.63 L512.76,273.19 L512.78,273.75 L512.80,274.32 L512.82,274.89 L512.84,275.46 L512.86,276.04 L512.88,276.62 L512.88,276.62 L512.90,277.20 L512.92,277.79 L512.94,278.38 L512.96,278.98 L512.98,279.57 L513.00,280.18 L513.02,280.78 L513.03,281.39 L513.05,282.00 L513.07,282.62 L513.09,283.24 L513.11,283.86 L513.13,284.49 L513.15,285.12 L513.17,285.76 L513.19,286.39 L513.21,287.04 L513.23,287.68 L513.25,288.33 L513.27,288.98 L513.29,289.64 L513.31,290.30 L513.33,290.96 L513.35,291.63 L513.37,292.30 L513.39,292.97 L513.41,293.65 L513.43,294.33 L513.45,295.01 L513.47,295.70 L513.48,296.39 L513.50,297.08 L513.52,297.78 L513.54,298.48 L513.56,299.18 L513.56,299.18 L513.58,299.89 L513.60,300.60 L513.62,301.31 L513.64,302.02 L513.66,302.74 L513.68,303.46 L513.70,304.19 L513.72,304.91 L513.74,305.64 L513.76,306.37 L513.78,307.10 L513.80,307.84 L513.82,308.58 L513.84,309.32 L513.86,310.06 L513.86,310.06 L513.88,310.80 L513.90,311.55 L513.92,312.30 L513.93,313.05 L513.95,313.80 L513.97,314.55 L513.99,315.30 L514.01,316.06 L514.03,316.81 L514.05,317.57 L514.07,318.33 L514.09,319.09 L514.11,319.85 L514.13,320.61 L514.15,321.37 L514.17,322.13 L514.19,322.89 L514.21,323.65 L514.23,324.41 L514.25,325.17 L514.27,325.93 L514.29,326.69 L514.31,327.44 L514.33,328.20 L514.35,328.96 L514.37,329.71 L514.38,330.47 L514.40,331.22 L514.42,331.97 L514.44,332.72 L514.46,333.46 L514.48,334.21 L514.50,334.95 L514.52,335.69 L514.54,336.43 L514.56,337.16 L514.58,337.89 L514.60,338.62 L514.62,339.34 L514.64,340.07 L514.66,340.78 L514.68,341.50 L514.70,342.21 L514.72,342.92 L514.74,343.62 L514.76,344.32 L514.76,344.46 L514.78,345.01 L514.80,345.70 L514.82,346.39 L514.84,347.07 L514.85,347.74 L514.87,348.41 L514.89,349.08 L514.91,349.74 L514.93,350.40 L514.95,351.05 L514.97,351.69 L514.99,352.33 L515.01,352.96 L515.03,353.59 L515.05,354.22 L515.07,354.83 L515.09,355.44 L515.11,356.05 L515.13,356.65 L515.13,356.65 L515.15,357.24 L515.17,357.83 L515.19,358.41 L515.21,358.98 L515.23,359.55 L515.25,360.12 L515.27,360.67 L515.29,361.22 L515.30,361.77 L515.32,362.30 L515.34,362.84 L515.36,363.36 L515.38,363.88 L515.40,364.39 L515.42,364.90 L515.44,365.40 L515.46,365.90 L515.48,366.38 L515.50,366.87 L515.52,367.34 L515.54,367.81 L515.56,368.27 L515.58,368.73 L515.60,369.18 L515.62,369.63 L515.64,370.07 L515.66,370.50 L515.68,370.93 L515.70,371.36 L515.72,371.77 L515.74,372.18 L515.75,372.59 L515.77,372.99 L515.79,373.38 L515.81,373.77 L515.81,373.77 L515.83,374.16 L515.85,374.53 L515.87,374.91 L515.89,375.27 L515.91,375.64 L515.93,376.00 L515.95,376.35 L515.97,376.70 L515.99,377.04 L516.01,377.38 L516.01,377.38 L516.03,377.71 L516.05,378.04 L516.07,378.36 L516.09,378.68 L516.11,379.00 L516.13,379.31 L516.15,379.61 L516.17,379.91 L516.19,380.21 L516.20,380.50 L516.22,380.79 L516.24,381.08 L516.26,381.36 L516.28,381.64 L516.30,381.91 L516.32,382.18 L516.34,382.44 L516.36,382.71 L516.38,382.96 L516.40,383.22 L516.42,383.47 L516.44,383.72 L516.46,383.96 L516.48,384.20 L516.50,384.44 L516.52,384.67 L516.54,384.90 L516.56,385.13 L516.58,385.36 L516.60,385.58 L516.62,385.80 L516.64,386.01 L516.65,386.23 L516.67,386.44 L516.69,386.64 L516.71,386.85 L516.73,387.05 L516.75,387.25 L516.77,387.44 L516.79,387.64 L516.79,387.64 L516.81,387.83 L516.83,388.02 L516.85,388.20 L516.87,388.39 L516.89,388.57 L516.91,388.75 L516.93,388.93 L516.95,389.10 L516.97,389.27 L516.99,389.44 L517.01,389.61 L517.03,389.78 L517.05,389.94 L517.07,390.10 L517.09,390.26 L517.10,390.42 L517.12,390.58 L517.14,390.73 L517.16,390.88 L517.18,391.03 L517.20,391.18 L517.22,391.33 L517.24,391.47 L517.26,391.62 L517.28,391.76 L517.30,391.90 L517.32,392.03 L517.34,392.17 L517.36,392.31 L517.38,392.44 L517.40,392.57 L517.42,392.70 L517.44,392.83 L517.46,392.96 L517.48,393.08 L517.50,393.21 L517.52,393.33 L517.54,393.45 L517.55,393.57 L517.57,393.69 L517.57,393.69 L517.59,393.81 L517.61,393.92 L517.63,394.04 L517.65,394.15 L517.67,394.27 L517.69,394.38 L517.71,394.49 L517.73,394.60 L517.75,394.70 L517.77,394.81 L517.77,394.81 L517.79,394.91 L517.81,395.02 L517.83,395.12 L517.85,395.22 L517.87,395.32 L517.89,395.42 L517.91,395.52 L517.93,395.62 L517.95,395.72 L517.97,395.81 L517.99,395.91 L518.00,396.00 L518.02,396.09 L518.04,396.19 L518.06,396.28 L518.08,396.37 L518.10,396.46 L518.12,396.54 L518.14,396.63 L518.16,396.72 L518.18,396.80 L518.20,396.89 L518.22,396.97 L518.24,397.06 L518.26,397.14 L518.28,397.22 L518.30,397.30 L518.32,397.38 L518.34,397.46 L518.36,397.54 L518.38,397.62 L518.40,397.69 L518.42,397.77 L518.44,397.84 L518.45,397.92 L518.45,397.92 L518.47,397.99 L518.49,398.07 L518.51,398.14 L518.53,398.21 L518.55,398.28 L518.57,398.35 L518.59,398.42 L518.61,398.49 L518.63,398.56 L518.65,398.63 L518.67,398.70 L518.69,398.76 L518.71,398.83 L518.73,398.90 L518.75,398.96 L518.75,398.96 L518.85,399.28 L518.94,399.58 L519.04,399.87 L519.14,400.15 L519.24,400.42 L519.34,400.67 L519.43,400.92 L519.53,401.15 L519.63,401.38 L519.73,401.60 L519.82,401.81 L519.92,402.01 L520.02,402.20 L520.12,402.39 L520.22,402.57 L520.31,402.75 L520.41,402.91 L520.51,403.07 L520.61,403.23 L520.71,403.38 L520.71,403.38 L520.80,403.53 L520.90,403.67 L521.00,403.80 L521.10,403.93 L521.19,404.06 L521.29,404.18 L521.39,404.30 L521.49,404.42 L521.59,404.53 L521.68,404.64 L521.68,404.64 L521.78,404.74 L521.88,404.84 L521.98,404.94 L522.07,405.04 L522.17,405.13 L522.27,405.22 L522.37,405.30 L522.47,405.39 L522.56,405.47 L522.66,405.55 L522.66,405.55 L522.76,405.62 L522.86,405.70 L522.96,405.77 L523.05,405.84 L523.15,405.91 L523.25,405.98 L523.35,406.04 L523.44,406.10 L523.54,406.16 L523.64,406.22 L523.64,406.22 L523.74,406.28 L523.84,406.34 L523.93,406.39 L524.03,406.44 L524.13,406.49 L524.23,406.54 L524.32,406.59 L524.42,406.64 L524.52,406.69 L524.62,406.73 L524.72,406.77 L524.81,406.82 L524.91,406.86 L525.01,406.90 L525.11,406.94 L525.21,406.98 L525.30,407.01 L525.40,407.05 L525.50,407.09 L525.60,407.12 L525.60,407.12 L525.69,407.15 L525.79,407.19 L525.89,407.22 L525.99,407.25 L526.09,407.28 L526.18,407.31 L526.28,407.34 L526.38,407.37 L526.48,407.39 L526.58,407.42 L526.58,407.42 L526.67,407.45 L526.77,407.47 L526.87,407.50 L526.97,407.52 L527.06,407.54 L527.16,407.57 L527.26,407.59 L527.36,407.61 L527.46,407.63 L527.55,407.65 L527.55,407.65 L527.65,407.67 L527.75,407.69 L527.85,407.71 L527.94,407.73 L528.04,407.75 L528.14,407.77 L528.24,407.79 L528.34,407.80 L528.43,407.82 L528.53,407.84 L528.53,407.84 L528.63,407.85 L528.73,407.87 L528.83,407.88 L528.92,407.90 L529.02,407.91 L529.12,407.93 L529.22,407.94 L529.31,407.96 L529.41,407.97 L529.51,407.98 L529.61,408.00 L529.71,408.01 L529.80,408.02 L529.90,408.03 L530.00,408.04 L530.10,408.06 L530.20,408.07 L530.29,408.08 L530.39,408.09 L530.49,408.10 L530.49,408.10 L530.59,408.11 L530.68,408.12 L530.78,408.13 L530.88,408.14 L530.98,408.15 L531.08,408.16 L531.17,408.17 L531.27,408.18 L531.37,408.18 L531.47,408.19 L531.47,408.19 L531.56,408.20 L531.66,408.21 L531.76,408.22 L531.86,408.22 L531.96,408.23 L532.05,408.24 L532.15,408.25 L532.25,408.25 L532.35,408.26 L532.45,408.27 L532.45,408.27 L532.54,408.27 L532.64,408.28 L532.74,408.29 L532.84,408.29 L532.93,408.30 L533.03,408.31 L533.13,408.31 L533.23,408.32 L533.33,408.32 L533.42,408.33 L533.42,408.33 L533.52,408.34 L533.62,408.34 L533.72,408.35 L533.81,408.35 L533.91,408.36 L534.01,408.36 L534.11,408.37 L534.21,408.37 L534.30,408.38 L534.40,408.38 L534.50,408.38 L534.60,408.39 L534.70,408.39 L534.79,408.40 L534.89,408.40 L534.99,408.41 L535.09,408.41 L535.18,408.41 L535.28,408.42 L535.38,408.42 L535.38,408.42 L535.48,408.43 L535.58,408.43 L535.67,408.43 L535.77,408.44 L535.87,408.44 L535.97,408.44 L536.07,408.45 L536.16,408.45 L536.26,408.45 L536.36,408.46 L536.36,408.46 L536.46,408.46 L536.55,408.46 L536.65,408.46 L536.75,408.47 L536.85,408.47 L536.95,408.47 L537.04,408.48 L537.14,408.48 L537.24,408.48 L537.34,408.48 L537.34,408.48 L537.43,408.49 L537.53,408.49 L537.63,408.49 L537.73,408.49 L537.83,408.50 L537.92,408.50 L538.02,408.50 L538.12,408.50 L538.22,408.51 L538.32,408.51 L538.32,408.51 L539.29,408.53 L540.27,408.54 L541.25,408.56 L542.23,408.57 L543.21,408.58 L544.19,408.59 L545.16,408.60 L546.14,408.60 L547.12,408.61 L548.10,408.61 L549.08,408.62 L550.06,408.62 L551.03,408.62 L552.01,408.63 L552.99,408.63 L553.97,408.63 L554.95,408.63 L555.93,408.63 L556.90,408.64 L557.88,408.64 L558.86,408.64 L559.84,408.64 L560.82,408.64 L561.80,408.64 L562.77,408.64 L563.75,408.64 L564.73,408.64 L565.71,408.64 L566.69,408.64 L567.67,408.65 L568.64,408.65 L569.62,408.65 L570.60,408.65 L571.58,408.65 L572.56,408.65 L573.54,408.65 L574.51,408.65 L575.49,408.65 L576.47,408.65 L577.45,408.65 L578.43,408.65 L579.41,408.65 L580.38,408.65 L581.36,408.65 L582.34,408.65 L583.32,408.65 L584.30,408.65 L585.28,408.65 L586.25,408.65 L587.23,408.65 L588.21,408.65 L589.19,408.65 L590.17,408.65 L591.15,408.65 L592.12,408.65 L593.10,408.65 L594.08,408.65 L595.06,408.65 L596.04,408.65 L597.02,408.65 L597.99,408.65 L598.97,408.65 L599.95,408.65 L600.93,408.65 L601.91,408.65 L602.89,408.65 L603.86,408.65 L604.84,408.65 L605.82,408.65 L606.80,408.65 L607.78,408.65 L608.76,408.65 L609.73,408.65 L610.71,408.65 L611.69,408.65 L612.67,408.65 L613.65,408.65 L614.63,408.65 L615.61,408.65 L616.58,408.65 L617.56,408.65 L618.54,408.65 L619.52,408.65 L620.50,408.65 L621.48,408.65 L622.45,408.65 L623.43,408.65 L624.41,408.65 L625.39,408.65 L626.37,408.65 L627.35,408.65 L628.32,408.65 L629.30,408.65 L630.28,408.65 L631.26,408.65 L632.24,408.65 L633.22,408.65 L634.19,408.65 L635.17,408.65 L636.15,408.65 L637.13,408.65 L638.11,408.65 L639.09,408.65 L640.06,408.65 L641.04,408.65 L642.02,408.65 L643.00,408.65 L643.98,408.65 L644.96,408.65 L645.93,408.65 L646.91,408.65 L647.89,408.65 L648.87,408.65 L649.85,408.65 L650.83,408.65 L651.80,408.65 L652.78,408.65 L653.76,408.65 L654.74,408.65 L655.72,408.65 L656.70,408.65 L657.67,408.65 L658.65,408.65 L659.63,408.65 L660.61,408.65 L661.59,408.65 L662.57,408.65 L663.54,408.65 L664.52,408.65 L665.50,408.65 L666.48,408.65 L667.46,408.65 L668.44,408.65 L669.41,408.65 L670.39,408.65 L671.37,408.65 L672.35,408.65 L673.33,408.65 L674.31,408.65 L675.28,408.65 L676.26,408.65 L677.24,408.65 L678.22,408.65 L679.20,408.65 L680.18,408.65 L681.15,408.65 L682.13,408.65 L683.11,408.65 L684.09,408.65 L685.07,408.65 L686.05,408.65 L687.02,408.65 L688.00,408.65 L688.98,408.65 L689.96,408.65 L690.94,408.65 L691.92,408.65 L692.89,408.65 L693.87,408.65 L694.85,408.65 L695.83,408.65 L696.81,408.65 L697.79,408.65 L698.76,408.65 L699.74,408.65 L700.72,408.65 L701.70,408.65 L702.68,408.65 L703.66,408.65 L704.63,408.65 L705.61,408.65 L706.59,408.65 L707.57,408.65 L708.55,408.65 L709.53,408.65 L710.50,408.65" stroke="#5a8ee2" stroke-linecap="square"/>
</g>
<line x1="416.90" y1="49.5" x2="416.90" y2="427.5" stroke="#000" stroke-opacity="0.64" stroke-width="1.4"/>
<g fill="none" stroke-width="1">
<path d="M111.5,49.0V428.0" stroke="#666"/>
<path d="M111.0,49.5H723.0" stroke="#a8a8a8"/>
<path d="M722.5,49.0V428.0" stroke="#848484"/>
<path d="M111.0,427.5H723.0" stroke="#848484"/>
<path d="M123.5,427.5v-7.2M123.5,49.5v7.2M143.5,427.5v-4.4M143.5,49.5v4.4M162.5,427.5v-4.4M162.5,49.5v4.4M182.5,427.5v-4.4M182.5,49.5v4.4M201.5,427.5v-4.4M201.5,49.5v4.4M221.5,427.5v-7.2M221.5,49.5v7.2M240.5,427.5v-4.4M240.5,49.5v4.4M260.5,427.5v-4.4M260.5,49.5v4.4M280.5,427.5v-4.4M280.5,49.5v4.4M299.5,427.5v-4.4M299.5,49.5v4.4M319.5,427.5v-7.2M319.5,49.5v7.2M338.5,427.5v-4.4M338.5,49.5v4.4M358.5,427.5v-4.4M358.5,49.5v4.4M377.5,427.5v-4.4M377.5,49.5v4.4M397.5,427.5v-4.4M397.5,49.5v4.4M417.5,427.5v-7.2M417.5,49.5v7.2M436.5,427.5v-4.4M436.5,49.5v4.4M456.5,427.5v-4.4M456.5,49.5v4.4M475.5,427.5v-4.4M475.5,49.5v4.4M495.5,427.5v-4.4M495.5,49.5v4.4M514.5,427.5v-7.2M514.5,49.5v7.2M534.5,427.5v-4.4M534.5,49.5v4.4M553.5,427.5v-4.4M553.5,49.5v4.4M573.5,427.5v-4.4M573.5,49.5v4.4M593.5,427.5v-4.4M593.5,49.5v4.4M612.5,427.5v-7.2M612.5,49.5v7.2M632.5,427.5v-4.4M632.5,49.5v4.4M651.5,427.5v-4.4M651.5,49.5v4.4M671.5,427.5v-4.4M671.5,49.5v4.4M690.5,427.5v-4.4M690.5,49.5v4.4M710.5,427.5v-7.2M710.5,49.5v7.2M111.5,408.50h7.2M722.5,408.50h-7.2M111.5,389.50h4.4M722.5,389.50h-4.4M111.5,369.50h4.4M722.5,369.50h-4.4M111.5,349.50h4.4M722.5,349.50h-4.4M111.5,329.50h4.4M722.5,329.50h-4.4M111.5,310.50h7.2M722.5,310.50h-7.2M111.5,290.50h4.4M722.5,290.50h-4.4M111.5,270.50h4.4M722.5,270.50h-4.4M111.5,250.50h4.4M722.5,250.50h-4.4M111.5,231.50h4.4M722.5,231.50h-4.4M111.5,211.50h7.2M722.5,211.50h-7.2M111.5,191.50h4.4M722.5,191.50h-4.4M111.5,172.50h4.4M722.5,172.50h-4.4M111.5,152.50h4.4M722.5,152.50h-4.4M111.5,132.50h4.4M722.5,132.50h-4.4M111.5,113.50h7.2M722.5,113.50h-7.2M111.5,93.50h4.4M722.5,93.50h-4.4M111.5,73.50h4.4M722.5,73.50h-4.4M111.5,54.50h4.4M722.5,54.50h-4.4" stroke="#707070"/>
</g>
<g font-family="Liberation Sans" font-size="21.8px" fill="#000">
<text transform="translate(77.00 416.35) scale(1 1.045) rotate(0.03)">0.0</text>
<text transform="translate(77.00 317.90) scale(1 1.045) rotate(0.03)">0.5</text>
<text transform="translate(77.00 219.45) scale(1 1.045) rotate(0.03)">1.0</text>
<text transform="translate(77.00 121.00) scale(1 1.045) rotate(0.03)">1.5</text>
<text transform="translate(105.66 453.60) scale(0.96 1.045) rotate(0.03)">−</text>
<text transform="translate(118.24 451.80) scale(1 1.045) rotate(0.03)">15</text>
<text transform="translate(203.49 453.60) scale(0.96 1.045) rotate(0.03)">−</text>
<text transform="translate(216.07 451.80) scale(1 1.045) rotate(0.03)">10</text>
<text transform="translate(307.39 453.60) scale(0.96 1.045) rotate(0.03)">−</text>
<text transform="translate(319.97 451.80) scale(1 1.045) rotate(0.03)">5</text>
<text transform="translate(411.44 451.80) scale(1 1.045) rotate(0.03)">0</text>
<text transform="translate(509.27 451.80) scale(1 1.045) rotate(0.03)">5</text>
<text transform="translate(601.05 451.80) scale(1 1.045) rotate(0.03)">10</text>
<text transform="translate(698.88 451.80) scale(1 1.045) rotate(0.03)">15</text>
</g>
<g fill="#fff"><rect x="78.00" y="217.30" width="4.3" height="2.9"/><rect x="84.60" y="217.30" width="4.2" height="2.9"/><rect x="78.00" y="118.85" width="4.3" height="2.9"/><rect x="84.60" y="118.85" width="4.2" height="2.9"/><rect x="119.24" y="449.65" width="4.3" height="2.9"/><rect x="125.84" y="449.65" width="4.2" height="2.9"/><rect x="217.07" y="449.65" width="4.3" height="2.9"/><rect x="223.67" y="449.65" width="4.2" height="2.9"/><rect x="602.05" y="449.65" width="4.3" height="2.9"/><rect x="608.65" y="449.65" width="4.2" height="2.9"/><rect x="699.88" y="449.65" width="4.3" height="2.9"/><rect x="706.48" y="449.65" width="4.2" height="2.9"/></g>
<line x1="738" x2="796" y1="177.4" y2="177.4" stroke="#ed2152" stroke-width="3"/>
<line x1="738" x2="796" y1="230.4" y2="230.4" stroke="#b2702d" stroke-width="3"/>
<line x1="739.1" x2="796" y1="285.5" y2="285.5" stroke="#3add27" stroke-width="3" stroke-dasharray="5.9 5.7"/>
<line x1="738" x2="796" y1="338.4" y2="338.4" stroke="#5a8ee2" stroke-width="3"/>
<g fill="#000" font-size="100px">
<text transform="matrix(0.2950 0 0 0.3187 147.81 34.58)" font-family="Liberation Serif" font-style="italic" stroke="#fff" stroke-width="0.72">ϵ</text>
<text transform="matrix(0.2514 0 0 0.2333 160.54 39.40)" font-family="Liberation Serif" stroke="#fff" stroke-width="0.91">1</text>
<text transform="matrix(0.3690 0 0 0.3515 220.02 34.50)" font-family="Liberation Serif" stroke="#fff" stroke-width="0.61">0</text>
<text transform="matrix(0.2462 0 0 0.2750 238.62 34.23)" font-family="Liberation Serif">.</text>
<text transform="matrix(0.3029 0 0 0.3515 247.57 34.50)" font-family="Liberation Serif" stroke="#fff" stroke-width="0.67">1</text>
<text transform="matrix(0.2800 0 0 0.3692 266.08 34.89)" font-family="Liberation Serif">,</text>
<text transform="matrix(0.3000 0 0 0.3187 290.20 34.58)" font-family="Liberation Serif" font-style="italic" stroke="#fff" stroke-width="0.71">ϵ</text>
<text transform="matrix(0.2659 0 0 0.2299 303.34 39.17)" font-family="Liberation Serif" stroke="#fff" stroke-width="0.89">2</text>
<text transform="matrix(0.3200 0 0 0.3515 362.72 34.50)" font-family="Liberation Serif" stroke="#fff" stroke-width="0.66">1</text>
<text transform="matrix(0.3000 0 0 0.3692 381.30 34.89)" font-family="Liberation Serif">,</text>
<text transform="matrix(0.3756 0 0 0.3435 395.98 34.80)" font-family="Liberation Serif" font-style="italic" stroke="#fff" stroke-width="0.61">x</text>
<text transform="matrix(0.2400 0 0 0.2333 413.84 39.40)" font-family="Liberation Serif" stroke="#fff" stroke-width="0.93">1</text>
<text transform="matrix(0.3667 0 0 0.3435 474.37 34.80)" font-family="Liberation Serif" font-style="italic" stroke="#fff" stroke-width="0.62">x</text>
<text transform="matrix(0.2585 0 0 0.2299 492.27 39.17)" font-family="Liberation Serif" stroke="#fff" stroke-width="0.90">2</text>
<text transform="matrix(0.3643 0 0 0.3515 551.44 34.50)" font-family="Liberation Serif" stroke="#fff" stroke-width="0.61">0</text>
<text transform="matrix(0.3200 0 0 0.3692 570.72 34.89)" font-family="Liberation Serif">,</text>
<text transform="matrix(0.3923 0 0 0.3508 586.29 34.50)" font-family="Liberation Serif" font-style="italic" stroke="#fff" stroke-width="0.59">L</text>
<text transform="matrix(0.3257 0 0 0.3515 652.47 34.50)" font-family="Liberation Serif" stroke="#fff" stroke-width="0.65">1</text>
<text transform="matrix(0.3619 0 0 0.3515 668.45 34.50)" font-family="Liberation Serif" stroke="#fff" stroke-width="0.62">0</text>
<text transform="matrix(0.2724 0 0 0.2636 808.68 182.64)" font-family="Liberation Serif" stroke="#fff" stroke-width="0.82">Re</text>
<text transform="matrix(0.2881 0 0 0.2684 843.41 182.63)" font-family="Liberation Serif" stroke="#fff" stroke-width="0.79">tr</text>
<text transform="matrix(0.2423 0 0 0.2900 864.03 183.51)" font-family="Liberation Serif" stroke="#fff" stroke-width="0.83">(</text>
<text transform="matrix(0.2396 0 0 0.2500 874.02 183.35)" font-family="Liberation Serif" font-style="italic" stroke="#fff" stroke-width="0.90">ρ</text>
<text transform="matrix(0.1732 0 0 0.1507 886.11 171.45)" font-family="Liberation Serif">2</text>
<text transform="matrix(0.1853 0 0 0.1591 887.41 189.60)" font-family="Liberation Serif" font-style="italic">A</text>
<text transform="matrix(0.2538 0 0 0.2900 900.74 183.51)" font-family="Liberation Serif" stroke="#fff" stroke-width="0.81">)</text>
<text transform="matrix(0.3750 0 0 0.3851 911.60 188.83)" font-family="Liberation Serif" stroke="#fff" stroke-width="0.58">/</text>
<text transform="matrix(0.3034 0 0 0.2684 923.80 182.63)" font-family="Liberation Serif" stroke="#fff" stroke-width="0.77">tr</text>
<text transform="matrix(0.2423 0 0 0.2900 944.73 183.51)" font-family="Liberation Serif" stroke="#fff" stroke-width="0.83">(</text>
<text transform="matrix(0.2417 0 0 0.2500 954.43 183.35)" font-family="Liberation Serif" font-style="italic" stroke="#fff" stroke-width="0.89">ρ</text>
<text transform="matrix(0.1756 0 0 0.1507 966.40 171.45)" font-family="Liberation Serif">2</text>
<text transform="matrix(0.1857 0 0 0.1662 965.76 189.27)" font-family="Liberation Serif">0</text>
<text transform="matrix(0.2538 0 0 0.2900 976.54 183.51)" font-family="Liberation Serif" stroke="#fff" stroke-width="0.81">)</text>
<text transform="matrix(0.2701 0 0 0.2621 808.39 235.04)" font-family="Liberation Serif" stroke="#fff" stroke-width="0.83">Im</text>
<text transform="matrix(0.2881 0 0 0.2684 843.71 235.33)" font-family="Liberation Serif" stroke="#fff" stroke-width="0.79">tr</text>
<text transform="matrix(0.2423 0 0 0.2900 864.33 236.21)" font-family="Liberation Serif" stroke="#fff" stroke-width="0.83">(</text>
<text transform="matrix(0.2396 0 0 0.2500 874.32 236.05)" font-family="Liberation Serif" font-style="italic" stroke="#fff" stroke-width="0.90">ρ</text>
<text transform="matrix(0.1732 0 0 0.1507 886.41 224.15)" font-family="Liberation Serif">2</text>
<text transform="matrix(0.1853 0 0 0.1591 887.71 242.30)" font-family="Liberation Serif" font-style="italic">A</text>
<text transform="matrix(0.2538 0 0 0.2900 901.04 236.21)" font-family="Liberation Serif" stroke="#fff" stroke-width="0.81">)</text>
<text transform="matrix(0.3750 0 0 0.3851 911.60 241.53)" font-family="Liberation Serif" stroke="#fff" stroke-width="0.58">/</text>
<text transform="matrix(0.3034 0 0 0.2684 923.80 235.33)" font-family="Liberation Serif" stroke="#fff" stroke-width="0.77">tr</text>
<text transform="matrix(0.2423 0 0 0.2900 944.73 236.21)" font-family="Liberation Serif" stroke="#fff" stroke-width="0.83">(</text>
<text transform="matrix(0.2417 0 0 0.2500 954.43 236.05)" font-family="Liberation Serif" font-style="italic" stroke="#fff" stroke-width="0.89">ρ</text>
<text transform="matrix(0.1756 0 0 0.1507 966.40 224.15)" font-family="Liberation Serif">2</text>
<text transform="matrix(0.1857 0 0 0.1662 965.76 241.97)" font-family="Liberation Serif">0</text>
<text transform="matrix(0.2538 0 0 0.2900 976.54 236.21)" font-family="Liberation Serif" stroke="#fff" stroke-width="0.81">)</text>
<text transform="matrix(0.3034 0 0 0.2772 808.90 290.62)" font-family="Liberation Serif" stroke="#fff" stroke-width="0.76">tr</text>
<text transform="matrix(0.2462 0 0 0.2933 829.92 292.04)" font-family="Liberation Serif" stroke="#fff" stroke-width="0.82">(</text>
<text transform="matrix(0.2417 0 0 0.2500 839.83 291.35)" font-family="Liberation Serif" font-style="italic" stroke="#fff" stroke-width="0.89">ρ</text>
<text transform="matrix(0.1477 0 0 0.1901 851.86 280.12)" font-family="Liberation Serif" stroke="#000" stroke-width="1.2">†</text>
<text transform="matrix(0.1838 0 0 0.1652 853.30 298.00)" font-family="Liberation Serif" font-style="italic">A</text>
<text transform="matrix(0.2521 0 0 0.2500 867.46 291.35)" font-family="Liberation Serif" font-style="italic" stroke="#fff" stroke-width="0.88">ρ</text>
<text transform="matrix(0.1838 0 0 0.1667 881.20 295.10)" font-family="Liberation Serif" font-style="italic">A</text>
<text transform="matrix(0.2500 0 0 0.2933 894.65 292.04)" font-family="Liberation Serif" stroke="#fff" stroke-width="0.81">)</text>
<text transform="matrix(0.3857 0 0 0.3910 905.10 297.22)" font-family="Liberation Serif" stroke="#fff" stroke-width="0.57">/</text>
<text transform="matrix(0.3068 0 0 0.2772 917.29 290.62)" font-family="Liberation Serif" stroke="#fff" stroke-width="0.75">tr</text>
<text transform="matrix(0.2385 0 0 0.2933 938.25 292.04)" font-family="Liberation Serif" stroke="#fff" stroke-width="0.83">(</text>
<text transform="matrix(0.2417 0 0 0.2500 947.93 291.35)" font-family="Liberation Serif" font-style="italic" stroke="#fff" stroke-width="0.89">ρ</text>
<text transform="matrix(0.1756 0 0 0.1507 959.90 279.75)" font-family="Liberation Serif">2</text>
<text transform="matrix(0.1833 0 0 0.1706 959.37 297.86)" font-family="Liberation Serif">0</text>
<text transform="matrix(0.2385 0 0 0.2933 970.38 292.04)" font-family="Liberation Serif" stroke="#fff" stroke-width="0.83">)</text>
<text transform="matrix(0.2741 0 0 0.2632 808.38 343.87)" font-family="Liberation Serif" stroke="#fff" stroke-width="0.82">Imagitivity</text>
<text transform="matrix(0.2758 0 0 0.2620 2.32 244.88)" font-family="Liberation Serif" stroke="#fff" stroke-width="0.82">Value</text>
<text transform="matrix(0.3800 0 0 0.3500 397.18 499.00)" font-family="Liberation Serif" font-style="italic" stroke="#fff" stroke-width="0.60">x</text>
<text transform="matrix(0.3203 0 0 0.2271 414.02 504.07)" font-family="Liberation Serif" font-style="italic" stroke="#fff" stroke-width="0.80">m</text>
</g>
<path d="M185.7,22.1H209.2M185.7,29.3H209.2" stroke="#000" stroke-width="1.4" fill="none"/>
<path d="M328.8,22.1H351.8M328.8,29.3H351.8" stroke="#000" stroke-width="1.4" fill="none"/>
<path d="M438.5,22.1H462.0M438.5,29.3H462.0" stroke="#000" stroke-width="1.4" fill="none"/>
<path d="M517.2,22.1H540.5M517.2,29.3H540.5" stroke="#000" stroke-width="1.4" fill="none"/>
<path d="M618.4,22.1H642.0M618.4,29.3H642.0" stroke="#000" stroke-width="1.4" fill="none"/>
</svg>
</body></html>
